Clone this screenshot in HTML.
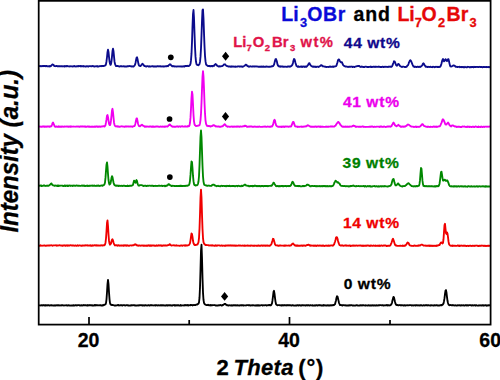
<!DOCTYPE html>
<html><head><meta charset="utf-8">
<style>
html,body{margin:0;padding:0;background:#fff;width:500px;height:380px;overflow:hidden}
svg{display:block}
text{font-family:"Liberation Sans",sans-serif;font-weight:bold;stroke-width:0.3px}
</style></head><body>
<svg width="500" height="380" viewBox="0 0 500 380">
<rect x="0" y="0" width="500" height="380" fill="#fff"/>
<g fill="none" stroke-width="1.85" stroke-linejoin="round" stroke-linecap="round">
<path d="M39.5 66.09 L40.0 65.99 L40.5 66.29 L41.0 65.94 L41.5 66.22 L42.0 66.12 L42.5 65.94 L43.0 66.21 L43.5 65.92 L44.0 66.16 L44.5 65.95 L45.0 65.96 L45.5 66.16 L46.0 66.40 L46.5 65.98 L47.0 66.04 L47.5 66.28 L48.0 66.47 L48.5 66.25 L49.0 66.14 L49.5 66.48 L50.0 65.91 L50.5 66.37 L51.0 65.92 L51.5 65.51 L52.0 64.90 L52.5 64.41 L53.0 64.65 L53.5 64.80 L54.0 65.67 L54.5 66.09 L55.0 66.07 L55.5 66.22 L56.0 65.94 L56.5 65.95 L57.0 66.04 L57.5 66.33 L58.0 66.18 L58.5 66.11 L59.0 66.28 L59.5 66.20 L60.0 66.11 L60.5 66.41 L61.0 66.35 L61.5 66.08 L62.0 66.28 L62.5 66.25 L63.0 66.46 L63.5 66.38 L64.0 66.11 L64.5 66.53 L65.0 66.01 L65.5 66.20 L66.0 66.40 L66.5 66.04 L67.0 66.24 L67.5 65.97 L68.0 66.35 L68.5 66.41 L69.0 66.30 L69.5 66.48 L70.0 66.14 L70.5 66.37 L71.0 66.31 L71.5 66.30 L72.0 66.23 L72.5 66.46 L73.0 66.53 L73.5 66.24 L74.0 66.36 L74.5 66.00 L75.0 66.38 L75.5 66.35 L76.0 66.56 L76.5 66.46 L77.0 66.14 L77.5 66.20 L78.0 66.37 L78.5 65.98 L79.0 66.25 L79.5 66.07 L80.0 66.04 L80.5 66.01 L81.0 66.43 L81.5 66.05 L82.0 66.12 L82.5 66.21 L83.0 66.50 L83.5 66.02 L84.0 66.25 L84.5 66.31 L85.0 66.51 L85.5 66.47 L86.0 66.50 L86.5 66.15 L87.0 66.23 L87.5 66.20 L88.0 66.51 L88.5 66.56 L89.0 66.07 L89.5 66.09 L90.0 66.12 L90.5 66.12 L91.0 66.27 L91.5 66.34 L92.0 66.14 L92.5 65.98 L93.0 66.23 L93.5 66.20 L94.0 66.32 L94.5 66.55 L95.0 66.39 L95.5 66.29 L96.0 66.35 L96.5 66.38 L97.0 66.01 L97.5 66.51 L98.0 66.44 L98.5 66.49 L99.0 66.44 L99.5 66.19 L100.0 66.19 L100.5 66.01 L101.0 66.32 L101.5 65.96 L102.0 65.95 L102.5 66.02 L103.0 65.97 L103.5 66.05 L104.0 65.84 L104.5 65.75 L105.0 65.69 L105.5 65.23 L106.0 64.18 L106.5 61.24 L107.0 57.25 L107.5 52.21 L108.0 49.66 L108.5 51.95 L109.0 56.83 L109.5 61.27 L110.0 63.70 L110.5 64.89 L111.0 64.12 L111.5 61.05 L112.0 56.36 L112.5 51.00 L113.0 48.64 L113.5 51.20 L114.0 56.33 L114.5 61.44 L115.0 63.95 L115.5 65.15 L116.0 66.17 L116.5 66.07 L117.0 65.91 L117.5 66.19 L118.0 65.91 L118.5 66.24 L119.0 66.52 L119.5 66.47 L120.0 66.38 L120.5 66.13 L121.0 66.20 L121.5 66.09 L122.0 66.46 L122.5 66.32 L123.0 66.47 L123.5 66.21 L124.0 66.15 L124.5 66.50 L125.0 66.61 L125.5 66.53 L126.0 66.51 L126.5 66.51 L127.0 66.47 L127.5 66.16 L128.0 66.34 L128.5 66.24 L129.0 66.04 L129.5 66.04 L130.0 66.19 L130.5 66.17 L131.0 66.42 L131.5 66.57 L132.0 66.26 L132.5 66.54 L133.0 66.55 L133.5 66.49 L134.0 66.03 L134.5 65.64 L135.0 64.81 L135.5 63.01 L136.0 60.30 L136.5 57.90 L137.0 57.26 L137.5 58.96 L138.0 61.61 L138.5 64.11 L139.0 65.55 L139.5 65.65 L140.0 66.07 L140.5 66.03 L141.0 65.53 L141.5 64.90 L142.0 64.16 L142.5 63.74 L143.0 64.37 L143.5 64.69 L144.0 65.60 L144.5 66.17 L145.0 66.09 L145.5 66.21 L146.0 66.59 L146.5 66.48 L147.0 66.16 L147.5 66.14 L148.0 66.16 L148.5 66.61 L149.0 66.56 L149.5 66.17 L150.0 66.58 L150.5 66.67 L151.0 66.48 L151.5 66.30 L152.0 66.42 L152.5 66.17 L153.0 66.10 L153.5 66.68 L154.0 66.49 L154.5 66.41 L155.0 66.66 L155.5 66.36 L156.0 66.62 L156.5 66.60 L157.0 66.23 L157.5 66.26 L158.0 66.28 L158.5 66.25 L159.0 66.46 L159.5 66.26 L160.0 66.36 L160.5 66.19 L161.0 66.65 L161.5 66.32 L162.0 66.38 L162.5 66.46 L163.0 66.65 L163.5 66.36 L164.0 66.65 L164.5 66.40 L165.0 66.42 L165.5 66.41 L166.0 66.10 L166.5 66.34 L167.0 66.16 L167.5 65.97 L168.0 66.25 L168.5 65.49 L169.0 65.09 L169.5 64.65 L170.0 64.29 L170.5 64.41 L171.0 65.11 L171.5 65.71 L172.0 66.24 L172.5 66.03 L173.0 66.38 L173.5 66.22 L174.0 66.25 L174.5 66.55 L175.0 66.39 L175.5 66.43 L176.0 66.54 L176.5 66.64 L177.0 66.35 L177.5 66.45 L178.0 66.39 L178.5 66.39 L179.0 66.49 L179.5 66.34 L180.0 66.39 L180.5 66.35 L181.0 66.62 L181.5 66.46 L182.0 66.56 L182.5 66.59 L183.0 66.17 L183.5 66.34 L184.0 66.55 L184.5 66.47 L185.0 66.03 L185.5 65.99 L186.0 66.15 L186.5 65.89 L187.0 65.95 L187.5 65.79 L188.0 66.07 L188.5 66.05 L189.0 65.98 L189.5 65.31 L190.0 65.14 L190.5 63.78 L191.0 60.18 L191.5 53.67 L192.0 41.98 L192.5 26.52 L193.0 14.03 L193.5 10.01 L194.0 18.16 L194.5 33.04 L195.0 47.03 L195.5 56.40 L196.0 61.80 L196.5 64.11 L197.0 64.82 L197.5 65.00 L198.0 65.14 L198.5 65.30 L199.0 64.60 L199.5 64.09 L200.0 61.89 L200.5 56.90 L201.0 48.34 L201.5 35.61 L202.0 20.99 L202.5 10.01 L203.0 9.46 L203.5 18.55 L204.0 32.98 L204.5 46.04 L205.0 55.81 L205.5 61.17 L206.0 64.21 L206.5 64.98 L207.0 65.33 L207.5 65.72 L208.0 66.15 L208.5 66.18 L209.0 65.92 L209.5 65.91 L210.0 66.42 L210.5 66.25 L211.0 66.36 L211.5 66.01 L212.0 66.00 L212.5 66.37 L213.0 66.13 L213.5 65.73 L214.0 65.87 L214.5 65.14 L215.0 64.67 L215.5 63.92 L216.0 64.54 L216.5 64.59 L217.0 65.67 L217.5 65.90 L218.0 66.11 L218.5 66.38 L219.0 66.66 L219.5 66.28 L220.0 66.21 L220.5 66.45 L221.0 66.27 L221.5 66.17 L222.0 66.11 L222.5 65.84 L223.0 65.54 L223.5 65.04 L224.0 64.46 L224.5 64.41 L225.0 64.28 L225.5 64.92 L226.0 65.34 L226.5 65.91 L227.0 66.00 L227.5 66.27 L228.0 66.19 L228.5 66.64 L229.0 66.54 L229.5 66.33 L230.0 66.51 L230.5 66.79 L231.0 66.30 L231.5 66.73 L232.0 66.50 L232.5 66.54 L233.0 66.75 L233.5 66.48 L234.0 66.55 L234.5 66.66 L235.0 66.84 L235.5 66.46 L236.0 66.76 L236.5 66.68 L237.0 66.64 L237.5 66.50 L238.0 66.47 L238.5 66.30 L239.0 66.34 L239.5 66.31 L240.0 66.71 L240.5 66.42 L241.0 66.36 L241.5 66.31 L242.0 66.76 L242.5 66.77 L243.0 66.61 L243.5 66.29 L244.0 66.08 L244.5 65.76 L245.0 65.39 L245.5 64.77 L246.0 64.75 L246.5 64.83 L247.0 65.70 L247.5 66.17 L248.0 66.27 L248.5 66.28 L249.0 66.80 L249.5 66.45 L250.0 66.49 L250.5 66.28 L251.0 66.52 L251.5 66.58 L252.0 66.60 L252.5 66.42 L253.0 66.60 L253.5 66.31 L254.0 66.46 L254.5 66.36 L255.0 66.55 L255.5 66.33 L256.0 66.32 L256.5 66.49 L257.0 66.45 L257.5 66.67 L258.0 66.63 L258.5 66.77 L259.0 66.71 L259.5 66.75 L260.0 66.85 L260.5 66.55 L261.0 66.52 L261.5 66.91 L262.0 66.41 L262.5 66.76 L263.0 66.71 L263.5 66.35 L264.0 66.82 L264.5 66.86 L265.0 66.70 L265.5 66.76 L266.0 66.81 L266.5 66.40 L267.0 66.63 L267.5 66.62 L268.0 66.81 L268.5 66.79 L269.0 66.80 L269.5 66.65 L270.0 66.83 L270.5 66.69 L271.0 66.69 L271.5 66.39 L272.0 66.24 L272.5 66.22 L273.0 66.13 L273.5 65.44 L274.0 64.78 L274.5 62.86 L275.0 60.79 L275.5 59.18 L276.0 59.04 L276.5 60.31 L277.0 62.11 L277.5 64.46 L278.0 65.66 L278.5 66.15 L279.0 66.44 L279.5 66.61 L280.0 66.30 L280.5 66.72 L281.0 66.45 L281.5 66.35 L282.0 66.48 L282.5 66.76 L283.0 66.45 L283.5 66.78 L284.0 66.92 L284.5 66.63 L285.0 66.57 L285.5 66.63 L286.0 66.75 L286.5 66.80 L287.0 66.71 L287.5 66.72 L288.0 66.38 L288.5 66.41 L289.0 66.47 L289.5 66.75 L290.0 66.46 L290.5 66.58 L291.0 66.15 L291.5 65.92 L292.0 65.43 L292.5 64.47 L293.0 62.65 L293.5 60.59 L294.0 59.00 L294.5 59.30 L295.0 60.85 L295.5 62.92 L296.0 64.43 L296.5 65.97 L297.0 66.09 L297.5 66.77 L298.0 66.83 L298.5 66.31 L299.0 66.60 L299.5 66.83 L300.0 66.93 L300.5 66.63 L301.0 66.52 L301.5 66.49 L302.0 66.94 L302.5 66.50 L303.0 66.72 L303.5 66.46 L304.0 66.69 L304.5 66.94 L305.0 66.44 L305.5 66.84 L306.0 66.61 L306.5 66.73 L307.0 66.35 L307.5 65.55 L308.0 65.15 L308.5 64.02 L309.0 63.16 L309.5 63.22 L310.0 64.20 L310.5 65.07 L311.0 65.72 L311.5 66.09 L312.0 66.45 L312.5 66.52 L313.0 66.87 L313.5 66.39 L314.0 66.85 L314.5 66.90 L315.0 66.48 L315.5 66.96 L316.0 66.84 L316.5 66.95 L317.0 66.59 L317.5 66.63 L318.0 66.64 L318.5 66.98 L319.0 66.67 L319.5 66.38 L320.0 66.17 L320.5 65.72 L321.0 65.25 L321.5 65.14 L322.0 65.72 L322.5 65.73 L323.0 66.47 L323.5 66.32 L324.0 66.48 L324.5 66.70 L325.0 66.53 L325.5 66.65 L326.0 67.00 L326.5 66.96 L327.0 66.92 L327.5 66.81 L328.0 66.98 L328.5 67.00 L329.0 66.77 L329.5 66.87 L330.0 66.46 L330.5 66.87 L331.0 66.70 L331.5 66.87 L332.0 66.80 L332.5 66.58 L333.0 66.43 L333.5 66.94 L334.0 66.45 L334.5 66.62 L335.0 66.48 L335.5 66.29 L336.0 66.17 L336.5 65.53 L337.0 63.79 L337.5 62.26 L338.0 60.28 L338.5 59.40 L339.0 59.44 L339.5 60.30 L340.0 61.32 L340.5 61.88 L341.0 62.36 L341.5 62.15 L342.0 62.42 L342.5 63.72 L343.0 64.81 L343.5 65.38 L344.0 65.82 L344.5 66.22 L345.0 66.34 L345.5 66.57 L346.0 66.46 L346.5 66.57 L347.0 66.59 L347.5 66.79 L348.0 66.99 L348.5 66.91 L349.0 66.72 L349.5 66.72 L350.0 66.79 L350.5 66.71 L351.0 66.69 L351.5 66.52 L352.0 66.66 L352.5 67.07 L353.0 66.57 L353.5 66.79 L354.0 66.87 L354.5 67.00 L355.0 66.60 L355.5 66.58 L356.0 66.46 L356.5 66.35 L357.0 66.11 L357.5 66.17 L358.0 65.99 L358.5 66.12 L359.0 65.86 L359.5 66.14 L360.0 66.75 L360.5 66.97 L361.0 66.77 L361.5 66.86 L362.0 66.52 L362.5 66.76 L363.0 67.08 L363.5 67.02 L364.0 67.04 L364.5 67.12 L365.0 66.68 L365.5 66.60 L366.0 66.63 L366.5 66.85 L367.0 66.95 L367.5 67.11 L368.0 66.98 L368.5 66.93 L369.0 67.00 L369.5 66.82 L370.0 66.88 L370.5 66.57 L371.0 67.02 L371.5 66.69 L372.0 67.10 L372.5 66.94 L373.0 66.74 L373.5 66.63 L374.0 66.71 L374.5 66.94 L375.0 66.98 L375.5 66.63 L376.0 66.60 L376.5 66.87 L377.0 66.91 L377.5 66.79 L378.0 66.70 L378.5 66.92 L379.0 66.57 L379.5 66.74 L380.0 66.84 L380.5 67.14 L381.0 66.95 L381.5 67.09 L382.0 66.85 L382.5 66.71 L383.0 66.71 L383.5 67.14 L384.0 66.99 L384.5 66.75 L385.0 66.57 L385.5 66.86 L386.0 66.96 L386.5 66.81 L387.0 66.71 L387.5 66.95 L388.0 67.10 L388.5 66.68 L389.0 66.55 L389.5 66.73 L390.0 66.76 L390.5 66.89 L391.0 66.54 L391.5 66.74 L392.0 66.31 L392.5 65.37 L393.0 63.91 L393.5 62.84 L394.0 61.27 L394.5 61.44 L395.0 62.07 L395.5 63.53 L396.0 65.08 L396.5 65.40 L397.0 65.74 L397.5 64.95 L398.0 64.17 L398.5 63.93 L399.0 64.35 L399.5 65.18 L400.0 66.06 L400.5 66.10 L401.0 66.55 L401.5 66.57 L402.0 67.08 L402.5 66.60 L403.0 66.55 L403.5 66.56 L404.0 66.75 L404.5 67.05 L405.0 67.03 L405.5 66.91 L406.0 67.00 L406.5 66.82 L407.0 66.18 L407.5 65.59 L408.0 65.24 L408.5 64.00 L409.0 62.25 L409.5 61.36 L410.0 60.36 L410.5 60.27 L411.0 60.95 L411.5 62.06 L412.0 63.30 L412.5 64.65 L413.0 65.57 L413.5 66.50 L414.0 66.32 L414.5 66.98 L415.0 66.61 L415.5 66.74 L416.0 67.04 L416.5 67.05 L417.0 66.82 L417.5 66.60 L418.0 66.86 L418.5 66.80 L419.0 67.12 L419.5 66.68 L420.0 66.75 L420.5 67.00 L421.0 66.29 L421.5 66.10 L422.0 65.65 L422.5 64.73 L423.0 63.53 L423.5 63.31 L424.0 63.81 L424.5 65.19 L425.0 65.64 L425.5 66.52 L426.0 66.93 L426.5 66.73 L427.0 66.74 L427.5 67.18 L428.0 66.98 L428.5 66.78 L429.0 67.05 L429.5 66.82 L430.0 66.80 L430.5 66.64 L431.0 67.09 L431.5 67.19 L432.0 67.02 L432.5 67.20 L433.0 66.65 L433.5 66.78 L434.0 66.92 L434.5 67.21 L435.0 67.20 L435.5 66.86 L436.0 66.77 L436.5 66.87 L437.0 66.90 L437.5 67.15 L438.0 66.69 L438.5 67.04 L439.0 66.98 L439.5 66.97 L440.0 66.78 L440.5 66.27 L441.0 65.17 L441.5 63.51 L442.0 61.40 L442.5 59.87 L443.0 59.04 L443.5 60.03 L444.0 61.34 L444.5 60.99 L445.0 59.92 L445.5 59.12 L446.0 59.74 L446.5 60.49 L447.0 61.05 L447.5 60.06 L448.0 59.14 L448.5 59.25 L449.0 61.25 L449.5 63.62 L450.0 65.52 L450.5 66.46 L451.0 66.57 L451.5 66.42 L452.0 66.30 L452.5 66.04 L453.0 65.64 L453.5 65.39 L454.0 65.50 L454.5 65.75 L455.0 65.90 L455.5 66.73 L456.0 66.64 L456.5 66.93 L457.0 66.87 L457.5 67.11 L458.0 66.80 L458.5 66.84 L459.0 66.84 L459.5 66.79 L460.0 67.24 L460.5 67.06 L461.0 66.91 L461.5 66.95 L462.0 67.31 L462.5 67.03 L463.0 66.86 L463.5 67.21 L464.0 67.12 L464.5 67.33 L465.0 66.79 L465.5 67.02 L466.0 67.23 L466.5 67.24 L467.0 67.29 L467.5 66.77 L468.0 66.92 L468.5 66.82 L469.0 66.86 L469.5 67.33 L470.0 67.10 L470.5 67.31 L471.0 66.98 L471.5 67.27 L472.0 67.02 L472.5 66.91 L473.0 67.22 L473.5 67.33 L474.0 66.82 L474.5 67.12 L475.0 67.13 L475.5 66.89 L476.0 66.99 L476.5 66.85 L477.0 66.89 L477.5 66.92 L478.0 67.13 L478.5 67.16 L479.0 66.89 L479.5 66.78 L480.0 66.97 L480.5 67.18 L481.0 66.89 L481.5 66.97 L482.0 66.90 L482.5 67.26 L483.0 67.11 L483.5 66.82 L484.0 66.84 L484.5 67.02 L485.0 67.12 L485.5 67.17 L486.0 66.84 L486.5 66.89 L487.0 67.21 L487.5 67.04 L488.0 66.96 L488.5 66.98 L489.0 67.37 L489.5 66.98" stroke="#0c0c8c"/>
<path d="M39.5 126.64 L40.0 126.51 L40.5 126.55 L41.0 126.81 L41.5 126.89 L42.0 126.51 L42.5 126.41 L43.0 126.73 L43.5 126.42 L44.0 126.30 L44.5 126.83 L45.0 126.55 L45.5 126.78 L46.0 126.53 L46.5 126.82 L47.0 126.56 L47.5 126.38 L48.0 126.29 L48.5 126.61 L49.0 126.66 L49.5 126.81 L50.0 126.31 L50.5 126.60 L51.0 126.35 L51.5 126.04 L52.0 124.76 L52.5 123.19 L53.0 122.41 L53.5 123.58 L54.0 124.73 L54.5 126.03 L55.0 126.61 L55.5 126.81 L56.0 126.37 L56.5 126.34 L57.0 126.84 L57.5 126.87 L58.0 126.58 L58.5 126.32 L59.0 126.85 L59.5 126.53 L60.0 126.84 L60.5 126.67 L61.0 126.79 L61.5 126.40 L62.0 126.77 L62.5 126.43 L63.0 126.54 L63.5 126.81 L64.0 126.80 L64.5 126.41 L65.0 126.43 L65.5 126.54 L66.0 126.62 L66.5 126.53 L67.0 126.38 L67.5 126.45 L68.0 126.74 L68.5 126.84 L69.0 126.33 L69.5 126.64 L70.0 126.76 L70.5 126.33 L71.0 126.81 L71.5 126.38 L72.0 126.67 L72.5 126.64 L73.0 126.68 L73.5 126.49 L74.0 126.56 L74.5 126.66 L75.0 126.56 L75.5 126.70 L76.0 126.58 L76.5 126.57 L77.0 126.32 L77.5 126.68 L78.0 126.60 L78.5 126.45 L79.0 126.77 L79.5 126.78 L80.0 126.58 L80.5 126.42 L81.0 126.59 L81.5 126.37 L82.0 126.39 L82.5 126.57 L83.0 126.36 L83.5 126.57 L84.0 126.61 L84.5 126.33 L85.0 126.69 L85.5 126.36 L86.0 126.75 L86.5 126.77 L87.0 126.61 L87.5 126.34 L88.0 126.61 L88.5 126.53 L89.0 126.88 L89.5 126.39 L90.0 126.82 L90.5 126.90 L91.0 126.74 L91.5 126.79 L92.0 126.42 L92.5 126.89 L93.0 126.60 L93.5 126.87 L94.0 126.85 L94.5 126.40 L95.0 126.77 L95.5 126.85 L96.0 126.33 L96.5 126.50 L97.0 126.74 L97.5 126.38 L98.0 126.82 L98.5 126.44 L99.0 126.76 L99.5 126.36 L100.0 126.56 L100.5 126.81 L101.0 126.37 L101.5 126.39 L102.0 126.53 L102.5 126.40 L103.0 126.21 L103.5 126.26 L104.0 126.19 L104.5 126.53 L105.0 125.99 L105.5 125.08 L106.0 122.43 L106.5 119.41 L107.0 115.72 L107.5 114.95 L108.0 117.14 L108.5 120.49 L109.0 123.70 L109.5 125.00 L110.0 125.15 L110.5 123.99 L111.0 120.22 L111.5 115.62 L112.0 110.40 L112.5 108.76 L113.0 112.32 L113.5 117.46 L114.0 122.46 L114.5 124.81 L115.0 125.77 L115.5 126.39 L116.0 126.32 L116.5 126.22 L117.0 126.60 L117.5 126.21 L118.0 126.70 L118.5 126.38 L119.0 126.62 L119.5 126.84 L120.0 126.61 L120.5 126.66 L121.0 126.46 L121.5 126.28 L122.0 126.30 L122.5 126.37 L123.0 126.66 L123.5 126.55 L124.0 126.60 L124.5 126.83 L125.0 126.37 L125.5 126.43 L126.0 126.69 L126.5 126.31 L127.0 126.30 L127.5 126.51 L128.0 126.36 L128.5 126.51 L129.0 126.43 L129.5 126.64 L130.0 126.64 L130.5 126.40 L131.0 126.65 L131.5 126.55 L132.0 126.34 L132.5 126.80 L133.0 126.36 L133.5 126.26 L134.0 126.09 L134.5 126.00 L135.0 125.12 L135.5 123.13 L136.0 120.37 L136.5 118.43 L137.0 118.51 L137.5 121.01 L138.0 123.44 L138.5 125.04 L139.0 126.05 L139.5 126.14 L140.0 126.32 L140.5 125.87 L141.0 125.16 L141.5 125.23 L142.0 124.69 L142.5 125.28 L143.0 125.65 L143.5 125.95 L144.0 126.10 L144.5 126.67 L145.0 126.27 L145.5 126.61 L146.0 126.86 L146.5 126.39 L147.0 126.43 L147.5 126.67 L148.0 126.62 L148.5 126.70 L149.0 126.81 L149.5 126.42 L150.0 126.51 L150.5 126.50 L151.0 126.35 L151.5 126.86 L152.0 126.79 L152.5 126.75 L153.0 126.33 L153.5 126.83 L154.0 126.77 L154.5 126.61 L155.0 126.77 L155.5 126.60 L156.0 126.46 L156.5 126.39 L157.0 126.47 L157.5 126.35 L158.0 126.53 L158.5 126.78 L159.0 126.74 L159.5 126.83 L160.0 126.75 L160.5 126.49 L161.0 126.66 L161.5 126.59 L162.0 126.80 L162.5 126.64 L163.0 126.48 L163.5 126.70 L164.0 126.90 L164.5 126.44 L165.0 126.84 L165.5 126.31 L166.0 126.45 L166.5 126.40 L167.0 126.64 L167.5 126.58 L168.0 126.13 L168.5 125.36 L169.0 125.12 L169.5 124.41 L170.0 124.40 L170.5 125.24 L171.0 125.65 L171.5 126.17 L172.0 126.45 L172.5 126.79 L173.0 126.54 L173.5 126.79 L174.0 126.71 L174.5 126.81 L175.0 126.56 L175.5 126.73 L176.0 126.64 L176.5 126.48 L177.0 126.42 L177.5 126.67 L178.0 126.34 L178.5 126.84 L179.0 126.38 L179.5 126.30 L180.0 126.35 L180.5 126.83 L181.0 126.48 L181.5 126.35 L182.0 126.28 L182.5 126.28 L183.0 126.66 L183.5 126.61 L184.0 126.64 L184.5 126.65 L185.0 126.23 L185.5 126.52 L186.0 126.36 L186.5 126.60 L187.0 126.56 L187.5 126.54 L188.0 125.97 L188.5 126.34 L189.0 126.11 L189.5 125.39 L190.0 122.74 L190.5 117.67 L191.0 108.59 L191.5 97.75 L192.0 91.69 L192.5 94.66 L193.0 104.49 L193.5 114.81 L194.0 121.36 L194.5 124.27 L195.0 125.27 L195.5 125.61 L196.0 126.12 L196.5 125.83 L197.0 125.90 L197.5 125.93 L198.0 125.62 L198.5 125.65 L199.0 125.43 L199.5 125.12 L200.0 123.46 L200.5 120.06 L201.0 113.75 L201.5 102.64 L202.0 89.13 L202.5 76.59 L203.0 71.06 L203.5 76.48 L204.0 88.90 L204.5 102.83 L205.0 113.42 L205.5 120.34 L206.0 123.63 L206.5 124.90 L207.0 125.88 L207.5 125.67 L208.0 126.25 L208.5 125.96 L209.0 125.93 L209.5 126.11 L210.0 126.48 L210.5 126.63 L211.0 126.03 L211.5 126.24 L212.0 126.05 L212.5 125.92 L213.0 125.21 L213.5 125.16 L214.0 125.12 L214.5 125.70 L215.0 125.74 L215.5 126.46 L216.0 126.27 L216.5 126.33 L217.0 126.66 L217.5 126.56 L218.0 126.34 L218.5 126.66 L219.0 126.33 L219.5 126.76 L220.0 126.70 L220.5 126.76 L221.0 126.65 L221.5 126.47 L222.0 126.42 L222.5 126.25 L223.0 126.21 L223.5 125.21 L224.0 125.11 L224.5 124.21 L225.0 124.37 L225.5 124.85 L226.0 125.82 L226.5 126.07 L227.0 126.30 L227.5 126.76 L228.0 126.43 L228.5 126.59 L229.0 126.64 L229.5 126.78 L230.0 126.79 L230.5 126.73 L231.0 126.55 L231.5 126.54 L232.0 126.44 L232.5 126.86 L233.0 126.75 L233.5 126.80 L234.0 126.46 L234.5 126.62 L235.0 126.82 L235.5 126.71 L236.0 126.44 L236.5 126.64 L237.0 126.89 L237.5 126.50 L238.0 126.48 L238.5 126.54 L239.0 126.78 L239.5 126.87 L240.0 126.45 L240.5 126.45 L241.0 126.51 L241.5 126.55 L242.0 126.65 L242.5 126.39 L243.0 126.39 L243.5 126.14 L244.0 126.38 L244.5 126.02 L245.0 125.55 L245.5 126.16 L246.0 125.86 L246.5 126.26 L247.0 126.79 L247.5 126.77 L248.0 126.78 L248.5 126.62 L249.0 126.48 L249.5 126.75 L250.0 126.44 L250.5 126.50 L251.0 126.61 L251.5 126.40 L252.0 126.62 L252.5 126.85 L253.0 126.79 L253.5 126.68 L254.0 126.76 L254.5 126.66 L255.0 126.47 L255.5 126.74 L256.0 126.62 L256.5 126.83 L257.0 126.93 L257.5 126.64 L258.0 126.73 L258.5 126.83 L259.0 126.63 L259.5 126.52 L260.0 126.82 L260.5 126.91 L261.0 126.85 L261.5 126.80 L262.0 126.89 L262.5 126.79 L263.0 126.77 L263.5 126.65 L264.0 126.57 L264.5 126.76 L265.0 126.44 L265.5 126.63 L266.0 126.84 L266.5 126.80 L267.0 126.75 L267.5 126.52 L268.0 126.62 L268.5 126.63 L269.0 126.73 L269.5 126.59 L270.0 126.74 L270.5 126.88 L271.0 126.40 L271.5 126.63 L272.0 126.52 L272.5 125.78 L273.0 124.69 L273.5 123.08 L274.0 120.47 L274.5 119.82 L275.0 120.54 L275.5 122.97 L276.0 124.96 L276.5 125.86 L277.0 126.12 L277.5 126.58 L278.0 126.62 L278.5 126.75 L279.0 126.64 L279.5 126.73 L280.0 126.85 L280.5 126.67 L281.0 126.61 L281.5 126.94 L282.0 126.50 L282.5 126.79 L283.0 126.61 L283.5 126.84 L284.0 126.45 L284.5 126.97 L285.0 126.59 L285.5 126.41 L286.0 126.54 L286.5 126.62 L287.0 126.38 L287.5 126.62 L288.0 126.62 L288.5 126.78 L289.0 126.56 L289.5 126.50 L290.0 126.44 L290.5 126.67 L291.0 126.55 L291.5 125.69 L292.0 124.35 L292.5 123.20 L293.0 121.84 L293.5 121.88 L294.0 123.09 L294.5 124.96 L295.0 126.02 L295.5 126.44 L296.0 126.54 L296.5 126.66 L297.0 126.48 L297.5 126.94 L298.0 126.58 L298.5 126.76 L299.0 126.87 L299.5 126.87 L300.0 126.67 L300.5 126.56 L301.0 126.72 L301.5 126.46 L302.0 126.89 L302.5 126.60 L303.0 126.90 L303.5 126.55 L304.0 126.61 L304.5 126.53 L305.0 126.61 L305.5 126.40 L306.0 126.15 L306.5 126.33 L307.0 125.72 L307.5 125.38 L308.0 125.27 L308.5 125.52 L309.0 125.81 L309.5 126.28 L310.0 126.54 L310.5 126.51 L311.0 126.91 L311.5 126.89 L312.0 126.43 L312.5 126.89 L313.0 126.94 L313.5 126.87 L314.0 126.49 L314.5 126.90 L315.0 126.79 L315.5 126.42 L316.0 126.41 L316.5 126.98 L317.0 126.80 L317.5 126.56 L318.0 126.47 L318.5 126.50 L319.0 126.55 L319.5 126.88 L320.0 126.62 L320.5 126.50 L321.0 126.95 L321.5 126.88 L322.0 126.51 L322.5 126.94 L323.0 126.77 L323.5 126.88 L324.0 126.81 L324.5 126.94 L325.0 126.88 L325.5 126.91 L326.0 126.52 L326.5 126.82 L327.0 126.72 L327.5 126.85 L328.0 126.66 L328.5 126.93 L329.0 126.73 L329.5 126.55 L330.0 126.53 L330.5 126.47 L331.0 126.67 L331.5 126.41 L332.0 126.64 L332.5 126.43 L333.0 126.61 L333.5 126.56 L334.0 126.49 L334.5 126.49 L335.0 125.67 L335.5 125.68 L336.0 124.80 L336.5 124.04 L337.0 123.26 L337.5 122.64 L338.0 121.96 L338.5 122.03 L339.0 122.84 L339.5 123.07 L340.0 124.26 L340.5 125.04 L341.0 125.31 L341.5 126.11 L342.0 126.43 L342.5 126.75 L343.0 126.48 L343.5 126.92 L344.0 126.66 L344.5 126.66 L345.0 126.91 L345.5 126.40 L346.0 126.82 L346.5 126.77 L347.0 126.60 L347.5 126.91 L348.0 126.62 L348.5 126.68 L349.0 126.72 L349.5 126.86 L350.0 126.52 L350.5 126.64 L351.0 126.59 L351.5 126.56 L352.0 126.53 L352.5 125.92 L353.0 125.95 L353.5 125.53 L354.0 125.67 L354.5 125.79 L355.0 126.23 L355.5 126.75 L356.0 126.70 L356.5 126.85 L357.0 126.60 L357.5 126.60 L358.0 126.60 L358.5 126.77 L359.0 126.80 L359.5 126.90 L360.0 126.45 L360.5 126.86 L361.0 126.96 L361.5 126.76 L362.0 126.46 L362.5 126.61 L363.0 126.44 L363.5 126.55 L364.0 126.99 L364.5 126.80 L365.0 126.83 L365.5 126.91 L366.0 126.98 L366.5 126.80 L367.0 126.81 L367.5 126.81 L368.0 126.85 L368.5 126.80 L369.0 126.85 L369.5 126.57 L370.0 126.84 L370.5 126.71 L371.0 126.90 L371.5 126.50 L372.0 126.55 L372.5 126.46 L373.0 126.90 L373.5 126.99 L374.0 126.83 L374.5 126.66 L375.0 126.93 L375.5 126.91 L376.0 126.78 L376.5 126.59 L377.0 126.62 L377.5 126.69 L378.0 126.63 L378.5 126.70 L379.0 126.82 L379.5 127.00 L380.0 126.47 L380.5 126.78 L381.0 126.46 L381.5 126.51 L382.0 126.92 L382.5 126.78 L383.0 126.99 L383.5 126.70 L384.0 126.44 L384.5 126.67 L385.0 126.79 L385.5 126.99 L386.0 127.02 L386.5 126.71 L387.0 126.67 L387.5 126.48 L388.0 126.80 L388.5 126.54 L389.0 126.49 L389.5 126.40 L390.0 126.36 L390.5 126.69 L391.0 126.17 L391.5 126.26 L392.0 124.99 L392.5 124.46 L393.0 123.06 L393.5 122.58 L394.0 123.41 L394.5 124.06 L395.0 125.34 L395.5 125.70 L396.0 125.91 L396.5 126.29 L397.0 125.93 L397.5 125.58 L398.0 125.15 L398.5 124.73 L399.0 125.37 L399.5 125.89 L400.0 126.17 L400.5 126.72 L401.0 126.46 L401.5 126.94 L402.0 126.82 L402.5 126.40 L403.0 126.40 L403.5 126.78 L404.0 126.85 L404.5 126.36 L405.0 126.40 L405.5 126.47 L406.0 125.85 L406.5 125.88 L407.0 125.22 L407.5 124.57 L408.0 124.53 L408.5 124.68 L409.0 124.87 L409.5 125.42 L410.0 125.54 L410.5 126.30 L411.0 126.30 L411.5 126.63 L412.0 126.71 L412.5 126.63 L413.0 126.64 L413.5 126.89 L414.0 126.99 L414.5 126.89 L415.0 126.77 L415.5 126.60 L416.0 126.46 L416.5 127.01 L417.0 126.85 L417.5 126.92 L418.0 126.61 L418.5 126.77 L419.0 126.97 L419.5 126.82 L420.0 126.52 L420.5 126.00 L421.0 125.50 L421.5 125.04 L422.0 124.10 L422.5 124.11 L423.0 124.45 L423.5 125.35 L424.0 125.99 L424.5 126.15 L425.0 126.24 L425.5 126.51 L426.0 126.65 L426.5 126.77 L427.0 126.91 L427.5 126.96 L428.0 126.46 L428.5 126.93 L429.0 126.92 L429.5 126.96 L430.0 126.78 L430.5 126.60 L431.0 126.95 L431.5 126.92 L432.0 126.84 L432.5 126.98 L433.0 126.64 L433.5 126.48 L434.0 126.76 L434.5 126.90 L435.0 126.53 L435.5 126.86 L436.0 126.96 L436.5 126.53 L437.0 126.74 L437.5 126.77 L438.0 126.62 L438.5 126.41 L439.0 126.33 L439.5 126.42 L440.0 126.04 L440.5 125.14 L441.0 123.85 L441.5 122.90 L442.0 121.36 L442.5 119.75 L443.0 119.32 L443.5 119.78 L444.0 120.83 L444.5 122.05 L445.0 123.42 L445.5 124.49 L446.0 124.66 L446.5 124.42 L447.0 123.65 L447.5 123.12 L448.0 122.56 L448.5 123.13 L449.0 124.03 L449.5 125.13 L450.0 125.63 L450.5 125.90 L451.0 126.48 L451.5 125.88 L452.0 125.41 L452.5 125.52 L453.0 125.65 L453.5 125.55 L454.0 126.16 L454.5 126.30 L455.0 126.59 L455.5 126.39 L456.0 126.43 L456.5 127.02 L457.0 126.96 L457.5 126.74 L458.0 126.79 L458.5 126.61 L459.0 126.92 L459.5 126.71 L460.0 127.03 L460.5 126.92 L461.0 126.96 L461.5 127.05 L462.0 126.62 L462.5 126.49 L463.0 126.59 L463.5 126.58 L464.0 126.52 L464.5 126.51 L465.0 126.81 L465.5 127.00 L466.0 126.75 L466.5 127.05 L467.0 127.02 L467.5 126.52 L468.0 126.84 L468.5 126.72 L469.0 126.55 L469.5 127.06 L470.0 126.64 L470.5 126.82 L471.0 126.87 L471.5 127.06 L472.0 126.89 L472.5 126.72 L473.0 126.75 L473.5 126.58 L474.0 127.07 L474.5 127.08 L475.0 126.62 L475.5 126.51 L476.0 126.64 L476.5 126.70 L477.0 127.03 L477.5 127.03 L478.0 126.99 L478.5 126.52 L479.0 126.96 L479.5 126.92 L480.0 126.88 L480.5 127.08 L481.0 126.52 L481.5 126.58 L482.0 126.95 L482.5 127.06 L483.0 126.90 L483.5 126.67 L484.0 126.85 L484.5 126.95 L485.0 126.56 L485.5 126.69 L486.0 126.65 L486.5 126.57 L487.0 126.78 L487.5 126.60 L488.0 126.64 L488.5 126.58 L489.0 126.90 L489.5 126.50" stroke="#f000f0"/>
<path d="M39.5 185.83 L40.0 185.51 L40.5 185.42 L41.0 185.95 L41.5 185.53 L42.0 185.96 L42.5 185.92 L43.0 185.93 L43.5 185.48 L44.0 185.67 L44.5 185.46 L45.0 185.96 L45.5 185.90 L46.0 185.78 L46.5 185.67 L47.0 185.60 L47.5 185.88 L48.0 185.67 L48.5 185.75 L49.0 185.40 L49.5 185.27 L50.0 184.69 L50.5 184.29 L51.0 183.51 L51.5 183.35 L52.0 184.55 L52.5 184.94 L53.0 185.44 L53.5 185.44 L54.0 185.55 L54.5 185.90 L55.0 185.61 L55.5 185.51 L56.0 185.71 L56.5 185.61 L57.0 185.96 L57.5 185.49 L58.0 186.01 L58.5 185.46 L59.0 185.96 L59.5 185.83 L60.0 185.56 L60.5 185.72 L61.0 185.60 L61.5 185.59 L62.0 185.55 L62.5 185.65 L63.0 186.03 L63.5 186.04 L64.0 185.99 L64.5 185.50 L65.0 185.61 L65.5 185.98 L66.0 185.48 L66.5 185.88 L67.0 185.62 L67.5 186.03 L68.0 185.45 L68.5 185.93 L69.0 185.65 L69.5 185.53 L70.0 185.45 L70.5 185.95 L71.0 185.77 L71.5 185.56 L72.0 185.71 L72.5 186.00 L73.0 185.58 L73.5 185.80 L74.0 185.54 L74.5 185.56 L75.0 185.92 L75.5 185.88 L76.0 185.57 L76.5 185.51 L77.0 185.51 L77.5 185.82 L78.0 185.76 L78.5 185.62 L79.0 185.58 L79.5 185.83 L80.0 185.89 L80.5 185.95 L81.0 185.81 L81.5 185.59 L82.0 185.50 L82.5 185.90 L83.0 185.71 L83.5 185.90 L84.0 185.50 L84.5 185.95 L85.0 185.67 L85.5 185.97 L86.0 185.99 L86.5 185.76 L87.0 185.48 L87.5 186.01 L88.0 185.75 L88.5 185.99 L89.0 185.63 L89.5 185.58 L90.0 185.97 L90.5 185.69 L91.0 185.57 L91.5 185.69 L92.0 185.82 L92.5 185.47 L93.0 185.78 L93.5 185.73 L94.0 185.77 L94.5 185.53 L95.0 185.89 L95.5 185.95 L96.0 185.97 L96.5 185.65 L97.0 185.88 L97.5 185.67 L98.0 185.89 L98.5 185.47 L99.0 185.95 L99.5 185.99 L100.0 185.70 L100.5 185.70 L101.0 185.69 L101.5 185.67 L102.0 185.33 L102.5 185.86 L103.0 185.36 L103.5 185.23 L104.0 184.94 L104.5 184.27 L105.0 182.53 L105.5 177.64 L106.0 170.91 L106.5 164.69 L107.0 162.39 L107.5 166.59 L108.0 174.05 L108.5 179.97 L109.0 183.26 L109.5 184.59 L110.0 184.15 L110.5 183.42 L111.0 181.02 L111.5 177.82 L112.0 176.17 L112.5 177.21 L113.0 179.87 L113.5 182.45 L114.0 184.14 L114.5 185.15 L115.0 185.30 L115.5 185.68 L116.0 185.89 L116.5 185.49 L117.0 185.77 L117.5 185.89 L118.0 185.55 L118.5 185.96 L119.0 186.03 L119.5 185.71 L120.0 185.74 L120.5 185.99 L121.0 185.81 L121.5 185.73 L122.0 186.06 L122.5 185.97 L123.0 185.71 L123.5 185.65 L124.0 185.71 L124.5 185.77 L125.0 186.10 L125.5 186.00 L126.0 186.06 L126.5 186.00 L127.0 186.02 L127.5 185.55 L128.0 185.82 L128.5 186.09 L129.0 186.07 L129.5 185.65 L130.0 185.75 L130.5 185.87 L131.0 185.69 L131.5 185.77 L132.0 185.44 L132.5 185.43 L133.0 184.68 L133.5 182.66 L134.0 180.73 L134.5 180.88 L135.0 182.13 L135.5 182.83 L136.0 181.37 L136.5 180.08 L137.0 181.00 L137.5 183.32 L138.0 184.53 L138.5 185.58 L139.0 185.49 L139.5 185.65 L140.0 185.19 L140.5 185.09 L141.0 185.20 L141.5 185.15 L142.0 185.21 L142.5 185.62 L143.0 185.72 L143.5 186.09 L144.0 185.71 L144.5 185.73 L145.0 185.94 L145.5 185.63 L146.0 185.92 L146.5 186.14 L147.0 185.87 L147.5 185.73 L148.0 185.85 L148.5 185.89 L149.0 185.66 L149.5 185.65 L150.0 185.66 L150.5 185.75 L151.0 185.82 L151.5 185.75 L152.0 185.73 L152.5 185.64 L153.0 185.91 L153.5 186.09 L154.0 185.95 L154.5 185.93 L155.0 185.98 L155.5 185.71 L156.0 186.01 L156.5 185.87 L157.0 185.92 L157.5 185.96 L158.0 185.87 L158.5 185.78 L159.0 185.74 L159.5 185.73 L160.0 185.90 L160.5 185.82 L161.0 185.94 L161.5 185.60 L162.0 185.80 L162.5 186.11 L163.0 185.74 L163.5 185.93 L164.0 185.88 L164.5 185.76 L165.0 186.18 L165.5 185.75 L166.0 186.02 L166.5 185.58 L167.0 185.36 L167.5 185.50 L168.0 184.75 L168.5 184.10 L169.0 184.25 L169.5 184.65 L170.0 185.32 L170.5 185.33 L171.0 185.60 L171.5 186.12 L172.0 186.02 L172.5 185.68 L173.0 185.79 L173.5 185.80 L174.0 186.00 L174.5 185.96 L175.0 186.11 L175.5 186.09 L176.0 185.91 L176.5 186.04 L177.0 186.04 L177.5 186.05 L178.0 185.88 L178.5 186.06 L179.0 186.01 L179.5 186.13 L180.0 185.66 L180.5 186.10 L181.0 185.58 L181.5 186.03 L182.0 185.92 L182.5 185.86 L183.0 186.13 L183.5 185.89 L184.0 185.78 L184.5 185.99 L185.0 186.03 L185.5 185.85 L186.0 185.69 L186.5 185.71 L187.0 185.67 L187.5 185.78 L188.0 185.45 L188.5 185.35 L189.0 185.03 L189.5 183.69 L190.0 180.53 L190.5 174.93 L191.0 167.31 L191.5 161.45 L192.0 162.12 L192.5 168.39 L193.0 175.96 L193.5 181.14 L194.0 184.01 L194.5 184.98 L195.0 184.97 L195.5 185.53 L196.0 185.16 L196.5 185.41 L197.0 185.27 L197.5 185.03 L198.0 183.71 L198.5 181.50 L199.0 176.27 L199.5 165.40 L200.0 150.81 L200.5 136.83 L201.0 130.54 L201.5 137.05 L202.0 151.26 L202.5 165.76 L203.0 176.37 L203.5 181.62 L204.0 183.99 L204.5 184.98 L205.0 185.14 L205.5 185.29 L206.0 185.55 L206.5 185.48 L207.0 185.90 L207.5 185.79 L208.0 185.73 L208.5 185.51 L209.0 185.70 L209.5 185.73 L210.0 185.83 L210.5 185.82 L211.0 185.92 L211.5 185.79 L212.0 185.20 L212.5 184.80 L213.0 184.63 L213.5 184.83 L214.0 184.70 L214.5 185.19 L215.0 185.70 L215.5 185.54 L216.0 185.75 L216.5 186.20 L217.0 186.13 L217.5 185.95 L218.0 185.72 L218.5 186.19 L219.0 186.08 L219.5 186.16 L220.0 186.26 L220.5 186.21 L221.0 185.93 L221.5 185.77 L222.0 185.86 L222.5 185.99 L223.0 185.99 L223.5 185.80 L224.0 185.80 L224.5 186.07 L225.0 186.06 L225.5 185.91 L226.0 186.30 L226.5 186.09 L227.0 185.73 L227.5 185.96 L228.0 186.18 L228.5 185.90 L229.0 186.13 L229.5 185.72 L230.0 185.90 L230.5 186.22 L231.0 186.07 L231.5 186.12 L232.0 185.84 L232.5 186.02 L233.0 186.06 L233.5 185.88 L234.0 186.11 L234.5 186.05 L235.0 186.33 L235.5 186.07 L236.0 185.98 L236.5 185.80 L237.0 185.83 L237.5 186.19 L238.0 185.80 L238.5 185.79 L239.0 185.84 L239.5 186.05 L240.0 186.23 L240.5 186.10 L241.0 186.21 L241.5 185.76 L242.0 185.70 L242.5 186.10 L243.0 185.69 L243.5 185.69 L244.0 185.15 L244.5 184.72 L245.0 184.65 L245.5 184.68 L246.0 185.48 L246.5 185.61 L247.0 185.72 L247.5 185.91 L248.0 185.94 L248.5 185.76 L249.0 186.28 L249.5 186.10 L250.0 186.33 L250.5 186.02 L251.0 186.13 L251.5 185.90 L252.0 185.78 L252.5 186.30 L253.0 186.23 L253.5 185.83 L254.0 186.05 L254.5 185.85 L255.0 185.47 L255.5 185.72 L256.0 186.09 L256.5 185.94 L257.0 186.29 L257.5 185.90 L258.0 186.00 L258.5 186.20 L259.0 185.91 L259.5 185.96 L260.0 186.30 L260.5 186.07 L261.0 186.26 L261.5 185.93 L262.0 185.89 L262.5 186.00 L263.0 185.90 L263.5 186.37 L264.0 185.96 L264.5 186.12 L265.0 185.85 L265.5 186.11 L266.0 186.02 L266.5 186.03 L267.0 185.82 L267.5 185.86 L268.0 186.28 L268.5 185.99 L269.0 185.92 L269.5 185.88 L270.0 185.93 L270.5 185.88 L271.0 185.71 L271.5 185.92 L272.0 185.32 L272.5 184.43 L273.0 183.74 L273.5 182.63 L274.0 182.83 L274.5 184.02 L275.0 184.60 L275.5 185.49 L276.0 186.08 L276.5 186.20 L277.0 185.85 L277.5 185.99 L278.0 186.22 L278.5 186.02 L279.0 186.37 L279.5 185.92 L280.0 186.37 L280.5 186.11 L281.0 185.94 L281.5 186.08 L282.0 185.89 L282.5 186.24 L283.0 185.97 L283.5 186.35 L284.0 186.17 L284.5 186.03 L285.0 185.96 L285.5 186.18 L286.0 185.94 L286.5 186.33 L287.0 185.88 L287.5 186.11 L288.0 186.12 L288.5 185.95 L289.0 186.24 L289.5 185.99 L290.0 186.08 L290.5 185.81 L291.0 185.12 L291.5 184.14 L292.0 182.63 L292.5 181.70 L293.0 182.23 L293.5 183.04 L294.0 184.55 L294.5 185.14 L295.0 185.88 L295.5 185.93 L296.0 186.07 L296.5 185.97 L297.0 185.85 L297.5 186.00 L298.0 185.96 L298.5 185.90 L299.0 186.26 L299.5 186.00 L300.0 186.08 L300.5 186.38 L301.0 186.30 L301.5 186.37 L302.0 186.36 L302.5 185.92 L303.0 186.00 L303.5 185.85 L304.0 186.23 L304.5 186.20 L305.0 185.95 L305.5 185.84 L306.0 185.72 L306.5 185.35 L307.0 184.67 L307.5 184.81 L308.0 184.61 L308.5 185.14 L309.0 185.29 L309.5 185.58 L310.0 186.25 L310.5 186.24 L311.0 186.26 L311.5 185.87 L312.0 185.88 L312.5 185.96 L313.0 185.98 L313.5 186.05 L314.0 186.10 L314.5 185.89 L315.0 186.06 L315.5 186.26 L316.0 185.98 L316.5 186.38 L317.0 186.22 L317.5 186.31 L318.0 186.03 L318.5 186.14 L319.0 186.29 L319.5 186.09 L320.0 185.88 L320.5 186.38 L321.0 186.35 L321.5 186.06 L322.0 185.91 L322.5 186.40 L323.0 186.25 L323.5 185.91 L324.0 186.03 L324.5 185.95 L325.0 186.36 L325.5 186.01 L326.0 186.43 L326.5 186.33 L327.0 185.93 L327.5 186.29 L328.0 186.11 L328.5 186.32 L329.0 186.36 L329.5 186.03 L330.0 185.90 L330.5 186.41 L331.0 186.08 L331.5 186.35 L332.0 186.14 L332.5 186.01 L333.0 185.73 L333.5 184.98 L334.0 183.89 L334.5 182.42 L335.0 181.63 L335.5 180.77 L336.0 180.88 L336.5 181.73 L337.0 181.89 L337.5 182.61 L338.0 182.24 L338.5 182.70 L339.0 183.14 L339.5 183.51 L340.0 184.49 L340.5 185.44 L341.0 185.73 L341.5 185.95 L342.0 185.91 L342.5 185.86 L343.0 186.07 L343.5 186.12 L344.0 186.00 L344.5 186.07 L345.0 185.98 L345.5 186.32 L346.0 186.31 L346.5 186.05 L347.0 186.06 L347.5 186.22 L348.0 186.18 L348.5 186.48 L349.0 186.13 L349.5 186.10 L350.0 186.44 L350.5 185.96 L351.0 186.14 L351.5 185.88 L352.0 186.00 L352.5 185.68 L353.0 185.74 L353.5 185.46 L354.0 185.92 L354.5 186.05 L355.0 186.09 L355.5 186.35 L356.0 186.42 L356.5 186.01 L357.0 186.12 L357.5 186.16 L358.0 186.07 L358.5 185.99 L359.0 186.12 L359.5 186.07 L360.0 186.38 L360.5 186.23 L361.0 186.03 L361.5 186.15 L362.0 186.24 L362.5 186.18 L363.0 186.06 L363.5 186.01 L364.0 185.97 L364.5 186.56 L365.0 186.42 L365.5 186.02 L366.0 186.40 L366.5 186.56 L367.0 186.31 L367.5 186.04 L368.0 186.27 L368.5 186.23 L369.0 186.09 L369.5 186.30 L370.0 185.98 L370.5 186.53 L371.0 186.36 L371.5 186.36 L372.0 186.54 L372.5 186.37 L373.0 186.13 L373.5 186.13 L374.0 186.07 L374.5 186.00 L375.0 186.45 L375.5 186.49 L376.0 186.16 L376.5 186.10 L377.0 186.37 L377.5 186.49 L378.0 186.54 L378.5 186.09 L379.0 186.46 L379.5 186.48 L380.0 186.43 L380.5 186.18 L381.0 186.10 L381.5 186.48 L382.0 186.18 L382.5 186.20 L383.0 186.31 L383.5 186.20 L384.0 186.48 L384.5 186.12 L385.0 186.00 L385.5 186.31 L386.0 186.35 L386.5 186.46 L387.0 186.38 L387.5 186.49 L388.0 186.51 L388.5 186.22 L389.0 186.21 L389.5 185.96 L390.0 185.95 L390.5 185.87 L391.0 184.97 L391.5 184.17 L392.0 182.09 L392.5 180.28 L393.0 179.28 L393.5 178.91 L394.0 180.39 L394.5 182.60 L395.0 184.06 L395.5 185.28 L396.0 185.06 L396.5 185.25 L397.0 184.63 L397.5 183.95 L398.0 183.46 L398.5 183.68 L399.0 184.58 L399.5 185.21 L400.0 185.68 L400.5 185.93 L401.0 186.13 L401.5 186.32 L402.0 186.43 L402.5 186.49 L403.0 186.04 L403.5 186.11 L404.0 186.17 L404.5 186.19 L405.0 185.94 L405.5 185.62 L406.0 185.18 L406.5 184.79 L407.0 184.21 L407.5 183.86 L408.0 183.34 L408.5 183.19 L409.0 183.54 L409.5 184.11 L410.0 184.58 L410.5 185.32 L411.0 185.34 L411.5 186.02 L412.0 186.16 L412.5 186.07 L413.0 186.28 L413.5 186.52 L414.0 186.25 L414.5 186.35 L415.0 186.14 L415.5 186.16 L416.0 186.47 L416.5 185.94 L417.0 186.02 L417.5 186.28 L418.0 186.08 L418.5 185.74 L419.0 185.66 L419.5 183.98 L420.0 180.17 L420.5 173.54 L421.0 168.02 L421.5 168.79 L422.0 174.94 L422.5 180.93 L423.0 184.32 L423.5 185.94 L424.0 186.07 L424.5 185.91 L425.0 186.41 L425.5 186.08 L426.0 186.01 L426.5 186.29 L427.0 186.14 L427.5 186.29 L428.0 186.34 L428.5 186.15 L429.0 186.36 L429.5 186.09 L430.0 186.33 L430.5 186.38 L431.0 186.07 L431.5 186.27 L432.0 186.07 L432.5 186.29 L433.0 186.54 L433.5 186.35 L434.0 186.44 L434.5 186.46 L435.0 186.06 L435.5 186.57 L436.0 186.40 L436.5 186.00 L437.0 186.41 L437.5 186.11 L438.0 185.90 L438.5 186.17 L439.0 185.35 L439.5 183.94 L440.0 180.47 L440.5 176.48 L441.0 172.25 L441.5 171.75 L442.0 174.67 L442.5 178.10 L443.0 180.63 L443.5 180.68 L444.0 180.02 L444.5 179.68 L445.0 179.68 L445.5 180.63 L446.0 180.92 L446.5 180.93 L447.0 180.32 L447.5 180.68 L448.0 181.80 L448.5 183.03 L449.0 184.82 L449.5 185.48 L450.0 186.17 L450.5 186.30 L451.0 186.46 L451.5 186.07 L452.0 186.24 L452.5 186.48 L453.0 186.62 L453.5 186.49 L454.0 186.09 L454.5 186.44 L455.0 186.14 L455.5 186.42 L456.0 186.58 L456.5 186.17 L457.0 186.66 L457.5 186.51 L458.0 186.26 L458.5 186.23 L459.0 186.38 L459.5 186.62 L460.0 186.47 L460.5 186.19 L461.0 186.14 L461.5 186.19 L462.0 186.61 L462.5 186.24 L463.0 186.47 L463.5 186.31 L464.0 186.55 L464.5 186.37 L465.0 186.23 L465.5 186.67 L466.0 186.47 L466.5 186.56 L467.0 186.63 L467.5 186.72 L468.0 186.16 L468.5 186.36 L469.0 186.24 L469.5 186.45 L470.0 186.68 L470.5 186.64 L471.0 186.18 L471.5 186.27 L472.0 186.65 L472.5 186.57 L473.0 186.40 L473.5 186.45 L474.0 186.26 L474.5 186.67 L475.0 186.40 L475.5 186.69 L476.0 186.53 L476.5 186.21 L477.0 186.37 L477.5 186.30 L478.0 186.71 L478.5 186.53 L479.0 186.20 L479.5 186.28 L480.0 186.39 L480.5 186.46 L481.0 186.53 L481.5 186.41 L482.0 186.39 L482.5 186.19 L483.0 186.53 L483.5 186.38 L484.0 186.20 L484.5 186.46 L485.0 186.78 L485.5 186.22 L486.0 186.28 L486.5 186.59 L487.0 186.35 L487.5 186.36 L488.0 186.49 L488.5 186.35 L489.0 186.54 L489.5 186.51" stroke="#008800"/>
<path d="M39.5 245.77 L40.0 245.79 L40.5 245.22 L41.0 245.54 L41.5 245.66 L42.0 245.72 L42.5 245.66 L43.0 245.58 L43.5 245.58 L44.0 245.42 L44.5 245.37 L45.0 245.68 L45.5 245.73 L46.0 245.77 L46.5 245.61 L47.0 245.39 L47.5 245.66 L48.0 245.65 L48.5 245.51 L49.0 245.59 L49.5 245.41 L50.0 245.53 L50.5 245.45 L51.0 245.24 L51.5 245.41 L52.0 245.40 L52.5 245.80 L53.0 245.50 L53.5 245.43 L54.0 245.35 L54.5 245.35 L55.0 245.42 L55.5 245.29 L56.0 245.21 L56.5 245.73 L57.0 245.48 L57.5 245.48 L58.0 245.55 L58.5 245.39 L59.0 245.31 L59.5 245.25 L60.0 245.39 L60.5 245.40 L61.0 245.65 L61.5 245.54 L62.0 245.77 L62.5 245.42 L63.0 245.76 L63.5 245.56 L64.0 245.26 L64.5 245.32 L65.0 245.56 L65.5 245.81 L66.0 245.43 L66.5 245.68 L67.0 245.47 L67.5 245.74 L68.0 245.26 L68.5 245.51 L69.0 245.75 L69.5 245.38 L70.0 245.37 L70.5 245.23 L71.0 245.31 L71.5 245.38 L72.0 245.64 L72.5 245.35 L73.0 245.46 L73.5 245.34 L74.0 245.58 L74.5 245.74 L75.0 245.61 L75.5 245.34 L76.0 245.66 L76.5 245.80 L77.0 245.58 L77.5 245.27 L78.0 245.70 L78.5 245.74 L79.0 245.42 L79.5 245.30 L80.0 245.33 L80.5 245.54 L81.0 245.74 L81.5 245.60 L82.0 245.77 L82.5 245.35 L83.0 245.42 L83.5 245.67 L84.0 245.61 L84.5 245.46 L85.0 245.63 L85.5 245.42 L86.0 245.25 L86.5 245.47 L87.0 245.25 L87.5 245.59 L88.0 245.42 L88.5 245.51 L89.0 245.58 L89.5 245.37 L90.0 245.49 L90.5 245.22 L91.0 245.77 L91.5 245.55 L92.0 245.81 L92.5 245.25 L93.0 245.58 L93.5 245.65 L94.0 245.41 L94.5 245.26 L95.0 245.30 L95.5 245.29 L96.0 245.66 L96.5 245.25 L97.0 245.68 L97.5 245.45 L98.0 245.51 L98.5 245.54 L99.0 245.51 L99.5 245.56 L100.0 245.52 L100.5 245.35 L101.0 245.58 L101.5 245.28 L102.0 245.53 L102.5 245.53 L103.0 245.50 L103.5 245.17 L104.0 245.37 L104.5 245.32 L105.0 244.46 L105.5 242.64 L106.0 238.49 L106.5 231.31 L107.0 222.98 L107.5 220.44 L108.0 226.01 L108.5 234.37 L109.0 240.68 L109.5 243.47 L110.0 244.76 L110.5 244.10 L111.0 243.41 L111.5 241.35 L112.0 239.68 L112.5 239.27 L113.0 240.35 L113.5 242.45 L114.0 244.02 L114.5 244.67 L115.0 245.50 L115.5 245.29 L116.0 245.20 L116.5 245.25 L117.0 245.60 L117.5 245.72 L118.0 245.28 L118.5 245.21 L119.0 245.66 L119.5 245.35 L120.0 245.80 L120.5 245.51 L121.0 245.60 L121.5 245.42 L122.0 245.70 L122.5 245.50 L123.0 245.42 L123.5 245.77 L124.0 245.29 L124.5 245.67 L125.0 245.27 L125.5 245.62 L126.0 245.47 L126.5 245.75 L127.0 245.27 L127.5 245.57 L128.0 245.48 L128.5 245.79 L129.0 245.80 L129.5 245.61 L130.0 245.37 L130.5 245.38 L131.0 245.39 L131.5 245.49 L132.0 245.35 L132.5 245.29 L133.0 245.54 L133.5 245.28 L134.0 244.80 L134.5 244.91 L135.0 244.24 L135.5 244.48 L136.0 244.47 L136.5 245.20 L137.0 245.47 L137.5 245.27 L138.0 245.64 L138.5 245.72 L139.0 245.40 L139.5 245.44 L140.0 245.54 L140.5 245.78 L141.0 245.35 L141.5 245.66 L142.0 245.61 L142.5 245.52 L143.0 245.60 L143.5 245.78 L144.0 245.38 L144.5 245.79 L145.0 245.47 L145.5 245.73 L146.0 245.78 L146.5 245.37 L147.0 245.78 L147.5 245.86 L148.0 245.44 L148.5 245.27 L149.0 245.33 L149.5 245.85 L150.0 245.27 L150.5 245.81 L151.0 245.35 L151.5 245.70 L152.0 245.32 L152.5 245.36 L153.0 245.67 L153.5 245.32 L154.0 245.47 L154.5 245.81 L155.0 245.69 L155.5 245.79 L156.0 245.85 L156.5 245.28 L157.0 245.40 L157.5 245.74 L158.0 245.68 L158.5 245.29 L159.0 245.57 L159.5 245.40 L160.0 245.52 L160.5 245.33 L161.0 245.27 L161.5 245.86 L162.0 245.45 L162.5 245.79 L163.0 245.33 L163.5 245.55 L164.0 245.34 L164.5 245.52 L165.0 245.36 L165.5 245.67 L166.0 245.34 L166.5 245.69 L167.0 245.53 L167.5 245.25 L168.0 245.27 L168.5 245.06 L169.0 244.89 L169.5 244.22 L170.0 244.18 L170.5 245.01 L171.0 245.36 L171.5 245.53 L172.0 245.36 L172.5 245.34 L173.0 245.40 L173.5 245.29 L174.0 245.27 L174.5 245.55 L175.0 245.49 L175.5 245.58 L176.0 245.47 L176.5 245.25 L177.0 245.66 L177.5 245.64 L178.0 245.57 L178.5 245.57 L179.0 245.65 L179.5 245.83 L180.0 245.76 L180.5 245.66 L181.0 245.47 L181.5 245.42 L182.0 245.47 L182.5 245.80 L183.0 245.44 L183.5 245.44 L184.0 245.44 L184.5 245.28 L185.0 245.78 L185.5 245.17 L186.0 245.52 L186.5 245.69 L187.0 245.27 L187.5 245.45 L188.0 245.27 L188.5 245.11 L189.0 244.88 L189.5 244.22 L190.0 243.15 L190.5 240.29 L191.0 236.67 L191.5 233.43 L192.0 234.14 L192.5 236.99 L193.0 240.76 L193.5 243.22 L194.0 244.31 L194.5 245.13 L195.0 244.64 L195.5 245.06 L196.0 245.05 L196.5 244.72 L197.0 244.59 L197.5 244.53 L198.0 243.46 L198.5 242.14 L199.0 238.10 L199.5 228.86 L200.0 214.19 L200.5 197.44 L201.0 189.59 L201.5 197.58 L202.0 214.18 L202.5 228.84 L203.0 238.06 L203.5 242.12 L204.0 243.50 L204.5 244.35 L205.0 244.46 L205.5 245.05 L206.0 244.93 L206.5 245.19 L207.0 245.15 L207.5 245.19 L208.0 245.09 L208.5 245.09 L209.0 245.60 L209.5 245.39 L210.0 245.41 L210.5 245.44 L211.0 245.63 L211.5 245.30 L212.0 245.27 L212.5 245.67 L213.0 245.47 L213.5 245.59 L214.0 245.71 L214.5 245.75 L215.0 245.75 L215.5 245.26 L216.0 245.47 L216.5 245.74 L217.0 245.74 L217.5 245.33 L218.0 245.35 L218.5 245.41 L219.0 245.32 L219.5 245.48 L220.0 245.75 L220.5 245.58 L221.0 245.55 L221.5 245.33 L222.0 245.52 L222.5 245.88 L223.0 245.70 L223.5 245.55 L224.0 245.57 L224.5 245.77 L225.0 245.75 L225.5 245.38 L226.0 245.70 L226.5 245.52 L227.0 245.61 L227.5 245.44 L228.0 245.52 L228.5 245.50 L229.0 245.53 L229.5 245.31 L230.0 245.42 L230.5 245.65 L231.0 245.34 L231.5 245.41 L232.0 245.74 L232.5 245.47 L233.0 245.50 L233.5 245.46 L234.0 245.81 L234.5 245.37 L235.0 245.69 L235.5 245.83 L236.0 245.43 L236.5 245.57 L237.0 245.79 L237.5 245.69 L238.0 245.54 L238.5 245.34 L239.0 245.58 L239.5 245.54 L240.0 245.75 L240.5 245.50 L241.0 245.56 L241.5 245.71 L242.0 245.81 L242.5 245.53 L243.0 245.55 L243.5 245.67 L244.0 245.88 L244.5 245.44 L245.0 245.91 L245.5 245.75 L246.0 245.55 L246.5 245.73 L247.0 245.52 L247.5 245.37 L248.0 245.78 L248.5 245.56 L249.0 245.64 L249.5 245.63 L250.0 245.87 L250.5 245.78 L251.0 245.34 L251.5 245.69 L252.0 245.61 L252.5 245.61 L253.0 245.83 L253.5 245.58 L254.0 245.62 L254.5 245.87 L255.0 245.60 L255.5 245.63 L256.0 245.64 L256.5 245.83 L257.0 245.73 L257.5 245.78 L258.0 245.57 L258.5 245.36 L259.0 245.74 L259.5 245.66 L260.0 245.79 L260.5 245.79 L261.0 245.40 L261.5 245.46 L262.0 245.38 L262.5 245.82 L263.0 245.39 L263.5 245.38 L264.0 245.78 L264.5 245.66 L265.0 245.36 L265.5 245.73 L266.0 245.74 L266.5 245.60 L267.0 245.34 L267.5 245.72 L268.0 245.55 L268.5 245.63 L269.0 245.87 L269.5 245.73 L270.0 245.71 L270.5 245.10 L271.0 244.77 L271.5 243.91 L272.0 241.96 L272.5 240.59 L273.0 238.80 L273.5 238.96 L274.0 240.57 L274.5 242.49 L275.0 244.36 L275.5 245.03 L276.0 245.37 L276.5 245.46 L277.0 245.29 L277.5 245.46 L278.0 245.81 L278.5 245.78 L279.0 245.83 L279.5 245.47 L280.0 245.44 L280.5 245.36 L281.0 245.65 L281.5 245.56 L282.0 245.61 L282.5 245.63 L283.0 245.69 L283.5 245.56 L284.0 245.82 L284.5 245.46 L285.0 245.89 L285.5 245.68 L286.0 245.37 L286.5 245.53 L287.0 245.66 L287.5 245.58 L288.0 245.68 L288.5 245.53 L289.0 245.49 L289.5 245.80 L290.0 245.46 L290.5 245.62 L291.0 245.44 L291.5 244.83 L292.0 244.07 L292.5 243.77 L293.0 243.41 L293.5 244.18 L294.0 244.39 L294.5 245.15 L295.0 245.55 L295.5 245.31 L296.0 245.84 L296.5 245.38 L297.0 245.70 L297.5 245.45 L298.0 245.90 L298.5 245.69 L299.0 245.83 L299.5 245.65 L300.0 245.76 L300.5 245.76 L301.0 245.53 L301.5 245.48 L302.0 245.86 L302.5 245.44 L303.0 245.91 L303.5 245.48 L304.0 245.41 L304.5 245.40 L305.0 245.80 L305.5 245.86 L306.0 245.44 L306.5 245.42 L307.0 244.95 L307.5 245.13 L308.0 244.90 L308.5 244.68 L309.0 244.83 L309.5 245.45 L310.0 245.22 L310.5 245.79 L311.0 245.51 L311.5 245.49 L312.0 245.71 L312.5 245.55 L313.0 245.70 L313.5 245.46 L314.0 245.91 L314.5 245.56 L315.0 245.87 L315.5 245.46 L316.0 245.85 L316.5 245.96 L317.0 245.61 L317.5 245.39 L318.0 245.60 L318.5 245.76 L319.0 245.51 L319.5 245.70 L320.0 245.43 L320.5 245.65 L321.0 245.81 L321.5 245.63 L322.0 245.78 L322.5 245.44 L323.0 245.87 L323.5 245.44 L324.0 245.92 L324.5 245.96 L325.0 245.93 L325.5 245.68 L326.0 245.54 L326.5 245.57 L327.0 245.81 L327.5 245.65 L328.0 245.91 L328.5 245.40 L329.0 245.63 L329.5 245.85 L330.0 245.68 L330.5 245.64 L331.0 245.36 L331.5 245.37 L332.0 245.42 L332.5 245.73 L333.0 245.57 L333.5 244.91 L334.0 244.71 L334.5 243.07 L335.0 241.74 L335.5 239.93 L336.0 237.70 L336.5 237.09 L337.0 237.35 L337.5 238.58 L338.0 240.79 L338.5 242.72 L339.0 243.93 L339.5 245.02 L340.0 245.09 L340.5 245.64 L341.0 245.42 L341.5 245.32 L342.0 245.64 L342.5 245.38 L343.0 245.66 L343.5 245.81 L344.0 245.71 L344.5 245.63 L345.0 245.38 L345.5 245.67 L346.0 245.43 L346.5 245.76 L347.0 245.45 L347.5 245.72 L348.0 245.59 L348.5 245.61 L349.0 245.78 L349.5 245.48 L350.0 245.49 L350.5 245.95 L351.0 245.59 L351.5 245.90 L352.0 245.92 L352.5 245.68 L353.0 245.48 L353.5 245.45 L354.0 245.92 L354.5 245.47 L355.0 245.70 L355.5 245.72 L356.0 245.47 L356.5 245.68 L357.0 245.50 L357.5 245.72 L358.0 245.71 L358.5 245.62 L359.0 245.52 L359.5 245.65 L360.0 245.53 L360.5 245.48 L361.0 245.55 L361.5 245.93 L362.0 245.71 L362.5 245.94 L363.0 245.42 L363.5 245.97 L364.0 245.70 L364.5 245.88 L365.0 245.75 L365.5 245.82 L366.0 245.55 L366.5 245.86 L367.0 245.50 L367.5 245.57 L368.0 245.43 L368.5 245.65 L369.0 245.72 L369.5 245.59 L370.0 245.95 L370.5 245.46 L371.0 245.76 L371.5 245.55 L372.0 245.77 L372.5 245.88 L373.0 245.84 L373.5 245.45 L374.0 245.56 L374.5 245.77 L375.0 246.00 L375.5 245.44 L376.0 245.78 L376.5 245.83 L377.0 245.90 L377.5 245.62 L378.0 245.90 L378.5 245.69 L379.0 245.97 L379.5 245.42 L380.0 245.98 L380.5 245.66 L381.0 245.66 L381.5 245.46 L382.0 245.56 L382.5 245.85 L383.0 245.81 L383.5 245.50 L384.0 245.61 L384.5 245.49 L385.0 245.52 L385.5 245.53 L386.0 245.59 L386.5 245.97 L387.0 245.98 L387.5 245.85 L388.0 245.65 L388.5 245.64 L389.0 245.79 L389.5 245.80 L390.0 245.55 L390.5 245.09 L391.0 243.98 L391.5 242.82 L392.0 241.14 L392.5 239.54 L393.0 238.68 L393.5 240.04 L394.0 241.58 L394.5 243.18 L395.0 244.84 L395.5 245.31 L396.0 245.63 L396.5 245.37 L397.0 245.83 L397.5 245.92 L398.0 245.91 L398.5 245.82 L399.0 245.88 L399.5 245.87 L400.0 245.75 L400.5 245.65 L401.0 245.89 L401.5 245.87 L402.0 245.92 L402.5 245.57 L403.0 245.97 L403.5 245.70 L404.0 245.94 L404.5 245.41 L405.0 245.83 L405.5 245.51 L406.0 244.75 L406.5 244.40 L407.0 243.20 L407.5 242.53 L408.0 242.62 L408.5 243.04 L409.0 244.03 L409.5 245.03 L410.0 245.39 L410.5 245.65 L411.0 245.57 L411.5 245.85 L412.0 245.87 L412.5 245.81 L413.0 245.97 L413.5 245.91 L414.0 245.66 L414.5 245.47 L415.0 245.81 L415.5 245.92 L416.0 245.62 L416.5 245.78 L417.0 245.92 L417.5 245.89 L418.0 245.41 L418.5 245.69 L419.0 245.36 L419.5 245.31 L420.0 245.53 L420.5 245.00 L421.0 244.82 L421.5 244.56 L422.0 244.56 L422.5 244.76 L423.0 245.15 L423.5 245.68 L424.0 245.69 L424.5 245.56 L425.0 245.46 L425.5 245.58 L426.0 245.84 L426.5 245.69 L427.0 245.82 L427.5 245.91 L428.0 245.50 L428.5 245.84 L429.0 245.45 L429.5 245.92 L430.0 245.54 L430.5 245.59 L431.0 246.00 L431.5 245.64 L432.0 245.56 L432.5 245.95 L433.0 245.78 L433.5 245.95 L434.0 245.65 L434.5 245.70 L435.0 245.97 L435.5 245.69 L436.0 245.98 L436.5 245.48 L437.0 245.85 L437.5 245.43 L438.0 245.60 L438.5 245.17 L439.0 245.02 L439.5 245.00 L440.0 243.98 L440.5 243.37 L441.0 242.46 L441.5 242.52 L442.0 242.84 L442.5 243.51 L443.0 242.94 L443.5 239.20 L444.0 232.07 L444.5 225.06 L445.0 223.75 L445.5 228.83 L446.0 233.25 L446.5 234.01 L447.0 232.39 L447.5 233.62 L448.0 237.13 L448.5 241.40 L449.0 243.96 L449.5 244.93 L450.0 245.39 L450.5 245.61 L451.0 245.81 L451.5 245.60 L452.0 245.55 L452.5 245.94 L453.0 245.40 L453.5 245.88 L454.0 245.80 L454.5 245.74 L455.0 245.68 L455.5 245.87 L456.0 245.96 L456.5 245.87 L457.0 245.88 L457.5 245.46 L458.0 245.64 L458.5 245.53 L459.0 246.02 L459.5 245.98 L460.0 245.54 L460.5 245.81 L461.0 245.80 L461.5 245.49 L462.0 245.70 L462.5 245.91 L463.0 245.85 L463.5 245.63 L464.0 245.92 L464.5 245.64 L465.0 245.79 L465.5 245.72 L466.0 246.06 L466.5 245.86 L467.0 245.95 L467.5 245.88 L468.0 245.70 L468.5 246.05 L469.0 245.90 L469.5 245.89 L470.0 245.64 L470.5 245.57 L471.0 245.82 L471.5 245.97 L472.0 245.96 L472.5 245.69 L473.0 245.56 L473.5 245.79 L474.0 246.01 L474.5 245.58 L475.0 245.93 L475.5 245.59 L476.0 245.67 L476.5 245.52 L477.0 245.66 L477.5 245.72 L478.0 246.07 L478.5 246.06 L479.0 245.60 L479.5 245.67 L480.0 246.05 L480.5 245.61 L481.0 245.68 L481.5 245.75 L482.0 245.55 L482.5 245.65 L483.0 245.73 L483.5 245.72 L484.0 246.07 L484.5 245.65 L485.0 245.61 L485.5 246.04 L486.0 245.76 L486.5 246.00 L487.0 245.88 L487.5 245.96 L488.0 245.68 L488.5 245.59 L489.0 245.95 L489.5 245.78" stroke="#f00000"/>
<path d="M39.5 305.38 L40.0 305.45 L40.5 305.50 L41.0 305.21 L41.5 305.27 L42.0 305.60 L42.5 305.37 L43.0 305.22 L43.5 305.43 L44.0 305.20 L44.5 305.51 L45.0 305.07 L45.5 305.54 L46.0 305.39 L46.5 305.26 L47.0 305.61 L47.5 305.21 L48.0 305.19 L48.5 305.09 L49.0 305.38 L49.5 305.50 L50.0 305.46 L50.5 305.30 L51.0 305.53 L51.5 305.12 L52.0 305.23 L52.5 305.44 L53.0 305.63 L53.5 305.43 L54.0 305.46 L54.5 305.51 L55.0 305.29 L55.5 305.61 L56.0 305.49 L56.5 305.25 L57.0 305.28 L57.5 305.53 L58.0 305.26 L58.5 305.16 L59.0 305.57 L59.5 305.37 L60.0 305.36 L60.5 305.45 L61.0 305.59 L61.5 305.13 L62.0 305.25 L62.5 305.09 L63.0 305.30 L63.5 305.35 L64.0 305.56 L64.5 305.45 L65.0 305.40 L65.5 305.29 L66.0 305.39 L66.5 305.21 L67.0 305.56 L67.5 305.52 L68.0 305.55 L68.5 305.14 L69.0 305.45 L69.5 305.50 L70.0 305.35 L70.5 305.59 L71.0 305.59 L71.5 305.49 L72.0 305.54 L72.5 305.44 L73.0 305.58 L73.5 305.13 L74.0 305.47 L74.5 305.47 L75.0 305.42 L75.5 305.21 L76.0 305.09 L76.5 305.41 L77.0 305.54 L77.5 305.21 L78.0 305.18 L78.5 305.18 L79.0 305.10 L79.5 305.45 L80.0 305.63 L80.5 305.53 L81.0 305.26 L81.5 305.47 L82.0 305.09 L82.5 305.55 L83.0 305.24 L83.5 305.05 L84.0 305.42 L84.5 305.13 L85.0 305.21 L85.5 305.08 L86.0 305.31 L86.5 305.38 L87.0 305.53 L87.5 305.07 L88.0 305.54 L88.5 305.11 L89.0 305.17 L89.5 305.42 L90.0 305.24 L90.5 305.24 L91.0 305.38 L91.5 305.17 L92.0 305.51 L92.5 305.16 L93.0 305.53 L93.5 305.51 L94.0 305.35 L94.5 305.04 L95.0 305.49 L95.5 305.04 L96.0 305.32 L96.5 305.27 L97.0 305.05 L97.5 305.39 L98.0 305.44 L98.5 305.35 L99.0 305.23 L99.5 305.29 L100.0 305.33 L100.5 305.10 L101.0 305.47 L101.5 305.53 L102.0 305.40 L102.5 305.46 L103.0 305.05 L103.5 305.40 L104.0 304.79 L104.5 304.94 L105.0 304.56 L105.5 304.29 L106.0 303.01 L106.5 299.35 L107.0 292.32 L107.5 284.00 L108.0 279.81 L108.5 284.03 L109.0 292.22 L109.5 299.04 L110.0 303.04 L110.5 304.33 L111.0 304.74 L111.5 304.77 L112.0 305.17 L112.5 304.93 L113.0 305.01 L113.5 305.22 L114.0 305.33 L114.5 305.52 L115.0 305.40 L115.5 305.53 L116.0 305.53 L116.5 305.42 L117.0 305.42 L117.5 305.04 L118.0 305.13 L118.5 305.02 L119.0 305.53 L119.5 305.45 L120.0 305.40 L120.5 305.18 L121.0 305.24 L121.5 305.13 L122.0 305.41 L122.5 305.63 L123.0 305.22 L123.5 305.06 L124.0 305.14 L124.5 305.25 L125.0 305.58 L125.5 305.52 L126.0 305.31 L126.5 305.10 L127.0 305.11 L127.5 305.14 L128.0 305.51 L128.5 305.33 L129.0 305.64 L129.5 305.59 L130.0 305.52 L130.5 305.33 L131.0 305.54 L131.5 305.12 L132.0 305.11 L132.5 305.39 L133.0 305.35 L133.5 305.17 L134.0 305.20 L134.5 305.06 L135.0 305.59 L135.5 305.48 L136.0 305.62 L136.5 305.64 L137.0 305.31 L137.5 305.49 L138.0 305.28 L138.5 305.54 L139.0 305.56 L139.5 305.13 L140.0 305.06 L140.5 305.18 L141.0 305.40 L141.5 305.28 L142.0 305.06 L142.5 305.55 L143.0 305.52 L143.5 305.33 L144.0 305.08 L144.5 305.59 L145.0 305.37 L145.5 305.10 L146.0 305.25 L146.5 305.43 L147.0 305.58 L147.5 305.34 L148.0 305.44 L148.5 305.18 L149.0 305.20 L149.5 305.60 L150.0 305.28 L150.5 305.12 L151.0 305.41 L151.5 305.13 L152.0 305.17 L152.5 305.33 L153.0 305.40 L153.5 305.43 L154.0 305.48 L154.5 305.32 L155.0 305.09 L155.5 305.49 L156.0 305.08 L156.5 305.33 L157.0 305.29 L157.5 305.46 L158.0 305.48 L158.5 305.20 L159.0 305.44 L159.5 305.47 L160.0 305.33 L160.5 305.14 L161.0 305.60 L161.5 305.41 L162.0 305.09 L162.5 305.19 L163.0 305.64 L163.5 305.19 L164.0 305.29 L164.5 305.52 L165.0 305.54 L165.5 305.43 L166.0 305.49 L166.5 305.07 L167.0 305.10 L167.5 305.63 L168.0 305.53 L168.5 305.07 L169.0 305.08 L169.5 305.19 L170.0 305.60 L170.5 305.18 L171.0 305.45 L171.5 305.60 L172.0 305.43 L172.5 305.60 L173.0 305.20 L173.5 305.13 L174.0 305.05 L174.5 305.50 L175.0 305.10 L175.5 305.62 L176.0 305.46 L176.5 305.15 L177.0 305.52 L177.5 305.13 L178.0 305.34 L178.5 305.10 L179.0 305.50 L179.5 305.56 L180.0 305.58 L180.5 305.03 L181.0 305.54 L181.5 305.36 L182.0 305.51 L182.5 305.32 L183.0 305.39 L183.5 305.37 L184.0 305.49 L184.5 305.06 L185.0 305.04 L185.5 305.33 L186.0 305.17 L186.5 305.23 L187.0 304.99 L187.5 305.43 L188.0 304.99 L188.5 305.47 L189.0 305.45 L189.5 305.23 L190.0 305.02 L190.5 305.32 L191.0 305.04 L191.5 305.16 L192.0 304.95 L192.5 305.45 L193.0 305.17 L193.5 305.03 L194.0 304.84 L194.5 305.18 L195.0 305.20 L195.5 305.13 L196.0 304.60 L196.5 304.65 L197.0 304.47 L197.5 304.54 L198.0 303.87 L198.5 303.58 L199.0 302.32 L199.5 297.97 L200.0 287.34 L200.5 269.77 L201.0 250.64 L201.5 244.76 L202.0 257.97 L202.5 277.82 L203.0 292.59 L203.5 299.96 L204.0 302.89 L204.5 303.89 L205.0 304.47 L205.5 304.61 L206.0 304.83 L206.5 305.03 L207.0 305.08 L207.5 305.08 L208.0 304.73 L208.5 305.17 L209.0 305.31 L209.5 305.09 L210.0 305.38 L210.5 304.98 L211.0 305.46 L211.5 305.18 L212.0 305.35 L212.5 305.09 L213.0 305.13 L213.5 305.17 L214.0 305.16 L214.5 305.03 L215.0 305.24 L215.5 305.57 L216.0 305.38 L216.5 305.55 L217.0 305.45 L217.5 305.50 L218.0 305.60 L218.5 305.46 L219.0 305.17 L219.5 305.16 L220.0 305.25 L220.5 305.02 L221.0 305.14 L221.5 305.51 L222.0 305.48 L222.5 305.00 L223.0 305.02 L223.5 304.65 L224.0 304.31 L224.5 303.97 L225.0 303.85 L225.5 303.92 L226.0 304.77 L226.5 304.82 L227.0 305.23 L227.5 305.18 L228.0 305.33 L228.5 305.60 L229.0 305.13 L229.5 305.35 L230.0 305.43 L230.5 305.36 L231.0 305.60 L231.5 305.29 L232.0 305.59 L232.5 305.46 L233.0 305.63 L233.5 305.10 L234.0 305.18 L234.5 305.22 L235.0 305.60 L235.5 305.06 L236.0 305.21 L236.5 305.48 L237.0 305.65 L237.5 305.16 L238.0 305.32 L238.5 305.47 L239.0 305.47 L239.5 305.50 L240.0 305.51 L240.5 305.21 L241.0 305.21 L241.5 305.07 L242.0 305.47 L242.5 305.18 L243.0 305.21 L243.5 305.64 L244.0 305.45 L244.5 305.41 L245.0 305.45 L245.5 305.42 L246.0 305.48 L246.5 305.24 L247.0 305.10 L247.5 305.10 L248.0 305.07 L248.5 305.28 L249.0 305.15 L249.5 305.13 L250.0 305.36 L250.5 305.64 L251.0 305.47 L251.5 305.22 L252.0 305.52 L252.5 305.17 L253.0 305.12 L253.5 305.24 L254.0 305.31 L254.5 305.47 L255.0 305.33 L255.5 305.50 L256.0 305.12 L256.5 305.62 L257.0 305.26 L257.5 305.56 L258.0 305.08 L258.5 305.55 L259.0 305.19 L259.5 305.57 L260.0 305.54 L260.5 305.46 L261.0 305.22 L261.5 305.06 L262.0 305.16 L262.5 305.59 L263.0 305.14 L263.5 305.44 L264.0 305.40 L264.5 305.44 L265.0 305.15 L265.5 305.12 L266.0 305.09 L266.5 305.61 L267.0 305.25 L267.5 305.40 L268.0 305.34 L268.5 305.12 L269.0 305.00 L269.5 304.95 L270.0 305.42 L270.5 304.92 L271.0 305.27 L271.5 304.44 L272.0 303.36 L272.5 300.24 L273.0 296.41 L273.5 291.98 L274.0 290.80 L274.5 293.60 L275.0 297.81 L275.5 301.62 L276.0 304.06 L276.5 304.64 L277.0 305.00 L277.5 305.34 L278.0 305.06 L278.5 305.07 L279.0 305.11 L279.5 305.22 L280.0 305.22 L280.5 305.40 L281.0 305.30 L281.5 305.55 L282.0 305.06 L282.5 305.44 L283.0 305.54 L283.5 305.19 L284.0 305.07 L284.5 305.31 L285.0 305.12 L285.5 305.33 L286.0 305.48 L286.5 305.11 L287.0 305.13 L287.5 305.35 L288.0 305.16 L288.5 305.20 L289.0 305.33 L289.5 305.13 L290.0 305.10 L290.5 305.28 L291.0 305.35 L291.5 305.63 L292.0 305.40 L292.5 305.11 L293.0 305.20 L293.5 305.51 L294.0 305.41 L294.5 305.59 L295.0 305.65 L295.5 305.58 L296.0 305.14 L296.5 305.64 L297.0 305.38 L297.5 305.21 L298.0 305.17 L298.5 305.59 L299.0 305.20 L299.5 305.12 L300.0 305.23 L300.5 305.63 L301.0 305.35 L301.5 305.51 L302.0 305.12 L302.5 305.34 L303.0 305.26 L303.5 305.20 L304.0 305.47 L304.5 305.29 L305.0 305.14 L305.5 305.66 L306.0 305.36 L306.5 305.18 L307.0 305.08 L307.5 305.46 L308.0 305.38 L308.5 305.09 L309.0 305.36 L309.5 305.52 L310.0 305.40 L310.5 305.21 L311.0 305.37 L311.5 305.44 L312.0 305.46 L312.5 305.16 L313.0 305.55 L313.5 305.64 L314.0 305.52 L314.5 305.59 L315.0 305.29 L315.5 305.61 L316.0 305.18 L316.5 305.21 L317.0 305.43 L317.5 305.61 L318.0 305.12 L318.5 305.20 L319.0 305.09 L319.5 305.33 L320.0 305.15 L320.5 305.18 L321.0 305.52 L321.5 305.42 L322.0 305.63 L322.5 305.31 L323.0 305.47 L323.5 305.07 L324.0 305.63 L324.5 305.20 L325.0 305.35 L325.5 305.37 L326.0 305.63 L326.5 305.35 L327.0 305.65 L327.5 305.43 L328.0 305.18 L328.5 305.55 L329.0 305.17 L329.5 305.64 L330.0 305.31 L330.5 305.17 L331.0 305.60 L331.5 305.21 L332.0 305.24 L332.5 305.19 L333.0 305.36 L333.5 304.92 L334.0 305.01 L334.5 304.57 L335.0 304.22 L335.5 302.28 L336.0 300.44 L336.5 297.76 L337.0 296.24 L337.5 296.50 L338.0 298.50 L338.5 300.64 L339.0 302.78 L339.5 304.00 L340.0 305.14 L340.5 304.91 L341.0 305.01 L341.5 305.28 L342.0 305.34 L342.5 305.54 L343.0 305.05 L343.5 305.17 L344.0 305.13 L344.5 305.39 L345.0 305.32 L345.5 305.29 L346.0 305.59 L346.5 305.45 L347.0 305.57 L347.5 305.63 L348.0 305.22 L348.5 305.63 L349.0 305.31 L349.5 305.10 L350.0 305.62 L350.5 305.13 L351.0 305.08 L351.5 305.24 L352.0 305.24 L352.5 305.65 L353.0 305.60 L353.5 305.33 L354.0 305.39 L354.5 305.58 L355.0 305.56 L355.5 305.47 L356.0 305.38 L356.5 305.15 L357.0 305.22 L357.5 305.47 L358.0 305.43 L358.5 305.56 L359.0 305.62 L359.5 305.66 L360.0 305.19 L360.5 305.12 L361.0 305.62 L361.5 305.42 L362.0 305.19 L362.5 305.49 L363.0 305.23 L363.5 305.22 L364.0 305.30 L364.5 305.39 L365.0 305.49 L365.5 305.12 L366.0 305.52 L366.5 305.45 L367.0 305.36 L367.5 305.48 L368.0 305.56 L368.5 305.09 L369.0 305.36 L369.5 305.49 L370.0 305.50 L370.5 305.47 L371.0 305.19 L371.5 305.65 L372.0 305.55 L372.5 305.22 L373.0 305.34 L373.5 305.65 L374.0 305.20 L374.5 305.32 L375.0 305.66 L375.5 305.62 L376.0 305.22 L376.5 305.52 L377.0 305.29 L377.5 305.47 L378.0 305.54 L378.5 305.15 L379.0 305.21 L379.5 305.20 L380.0 305.23 L380.5 305.09 L381.0 305.15 L381.5 305.31 L382.0 305.32 L382.5 305.12 L383.0 305.42 L383.5 305.63 L384.0 305.41 L384.5 305.27 L385.0 305.48 L385.5 305.32 L386.0 305.16 L386.5 305.34 L387.0 305.05 L387.5 305.44 L388.0 305.12 L388.5 305.23 L389.0 305.57 L389.5 305.43 L390.0 305.42 L390.5 305.17 L391.0 304.82 L391.5 304.08 L392.0 302.78 L392.5 300.23 L393.0 298.40 L393.5 296.92 L394.0 297.43 L394.5 299.69 L395.0 301.79 L395.5 303.68 L396.0 304.72 L396.5 305.04 L397.0 305.00 L397.5 304.96 L398.0 305.31 L398.5 305.44 L399.0 305.18 L399.5 305.07 L400.0 305.04 L400.5 305.15 L401.0 305.47 L401.5 305.06 L402.0 305.20 L402.5 305.22 L403.0 305.49 L403.5 305.66 L404.0 305.08 L404.5 305.14 L405.0 305.63 L405.5 305.65 L406.0 305.16 L406.5 305.28 L407.0 305.39 L407.5 305.27 L408.0 305.33 L408.5 305.37 L409.0 305.23 L409.5 305.11 L410.0 305.13 L410.5 305.18 L411.0 305.14 L411.5 305.46 L412.0 305.50 L412.5 305.24 L413.0 305.56 L413.5 305.52 L414.0 305.29 L414.5 305.38 L415.0 305.20 L415.5 305.64 L416.0 305.42 L416.5 305.11 L417.0 305.18 L417.5 305.50 L418.0 305.31 L418.5 305.51 L419.0 305.22 L419.5 305.56 L420.0 305.56 L420.5 305.14 L421.0 305.43 L421.5 305.20 L422.0 305.51 L422.5 305.56 L423.0 305.56 L423.5 305.22 L424.0 305.14 L424.5 305.48 L425.0 305.42 L425.5 305.16 L426.0 305.20 L426.5 305.43 L427.0 305.14 L427.5 305.46 L428.0 305.22 L428.5 305.23 L429.0 305.33 L429.5 305.40 L430.0 305.51 L430.5 305.09 L431.0 305.51 L431.5 305.21 L432.0 305.25 L432.5 305.45 L433.0 305.48 L433.5 305.44 L434.0 305.61 L434.5 305.19 L435.0 305.25 L435.5 305.45 L436.0 305.21 L436.5 305.14 L437.0 305.18 L437.5 305.50 L438.0 305.53 L438.5 305.45 L439.0 305.59 L439.5 305.48 L440.0 305.17 L440.5 305.16 L441.0 305.37 L441.5 304.93 L442.0 305.20 L442.5 304.72 L443.0 304.26 L443.5 303.49 L444.0 301.13 L444.5 298.15 L445.0 294.00 L445.5 290.59 L446.0 290.09 L446.5 292.77 L447.0 297.09 L447.5 300.76 L448.0 303.07 L448.5 304.52 L449.0 304.93 L449.5 305.28 L450.0 304.96 L450.5 304.98 L451.0 305.20 L451.5 305.27 L452.0 305.15 L452.5 305.42 L453.0 305.16 L453.5 305.22 L454.0 305.33 L454.5 305.47 L455.0 305.51 L455.5 305.28 L456.0 305.33 L456.5 305.62 L457.0 305.63 L457.5 305.44 L458.0 305.13 L458.5 305.35 L459.0 305.46 L459.5 305.24 L460.0 305.10 L460.5 305.67 L461.0 305.63 L461.5 305.16 L462.0 305.36 L462.5 305.45 L463.0 305.26 L463.5 305.13 L464.0 305.54 L464.5 305.55 L465.0 305.35 L465.5 305.14 L466.0 305.32 L466.5 305.14 L467.0 305.67 L467.5 305.12 L468.0 305.26 L468.5 305.55 L469.0 305.17 L469.5 305.15 L470.0 305.13 L470.5 305.19 L471.0 305.41 L471.5 305.59 L472.0 305.19 L472.5 305.20 L473.0 305.55 L473.5 305.35 L474.0 305.30 L474.5 305.17 L475.0 305.24 L475.5 305.68 L476.0 305.16 L476.5 305.25 L477.0 305.54 L477.5 305.63 L478.0 305.64 L478.5 305.38 L479.0 305.67 L479.5 305.46 L480.0 305.27 L480.5 305.37 L481.0 305.52 L481.5 305.54 L482.0 305.17 L482.5 305.21 L483.0 305.67 L483.5 305.16 L484.0 305.58 L484.5 305.30 L485.0 305.25 L485.5 305.25 L486.0 305.38 L486.5 305.69 L487.0 305.19 L487.5 305.61 L488.0 305.29 L488.5 305.20 L489.0 305.54 L489.5 305.30" stroke="#000000"/>
</g>
<circle cx="170.8" cy="57.3" r="2.85" fill="#000"/>
<circle cx="169.55" cy="119" r="2.85" fill="#000"/>
<circle cx="169.85" cy="177.1" r="2.85" fill="#000"/>
<path d="M225.6 51.7L229.2 56.2L225.6 60.7L222.0 56.2Z" fill="#000"/>
<path d="M225.5 112.0L229.1 116.5L225.5 121.0L221.9 116.5Z" fill="#000"/>
<path d="M224.6 291.9L228.2 296.4L224.6 300.8L221.0 296.4Z" fill="#000"/>
<g stroke="#000" stroke-width="1.7" fill="none">
<path d="M89 317V324M289.5 317V324M189.2 320V324M390 320V324"/>
</g>
<rect x="38.7" y="0.85" width="451.9" height="323.75" fill="none" stroke="#000" stroke-width="1.75"/>
<g font-size="19.5" text-anchor="middle" fill="#000" stroke="#000">
<text x="88.5" y="347.3">20</text>
<text x="289.0" y="347.3">40</text>
<text x="490.2" y="346.9">60</text>
</g>
<text x="216.4" y="374.8" font-size="22" fill="#000" stroke="#000">2 <tspan font-style="italic" dx="-1.2" letter-spacing="0.3">Theta</tspan></text>
<text x="298.3" y="374.8" font-size="22" fill="#000" letter-spacing="0.8" stroke="#000">(°)</text>
<text transform="translate(17.6 151.3) rotate(-90) scale(1 1.06)" font-size="24" font-style="italic" text-anchor="middle" fill="#000" stroke="#000">Intensity (a.u.)</text>
<text x="281.3" y="20.7" font-size="19.5" fill="#0a0ad8" stroke="#0a0ad8">Li</text>
<text x="299.9" y="26.5" font-size="12.8" fill="#0a0ad8" stroke="#0a0ad8">3</text>
<text x="307.2" y="20.7" font-size="19.5" fill="#0a0ad8" letter-spacing="0.6" stroke="#0a0ad8">OBr</text>
<text x="353.4" y="20.7" font-size="19.5" fill="#000" letter-spacing="0.9" stroke="#000">and</text>
<text x="397.4" y="20.7" font-size="19.5" fill="#e60808" stroke="#e60808">Li</text>
<text x="414.8" y="27.0" font-size="12.8" fill="#e60808" stroke="#e60808">7</text>
<text x="421.4" y="20.7" font-size="19.5" fill="#e60808" stroke="#e60808">O</text>
<text x="438.0" y="27.0" font-size="12.8" fill="#e60808" stroke="#e60808">2</text>
<text x="446.4" y="20.7" font-size="19.5" fill="#e60808" letter-spacing="0.2" stroke="#e60808">Br</text>
<text x="469.5" y="26.8" font-size="12.8" fill="#e60808" stroke="#e60808">3</text>
<text x="233.2" y="47.4" font-size="14.8" fill="#e0144a" stroke="#e0144a">Li</text>
<text x="246.4" y="51.0" font-size="9.5" fill="#e0144a" stroke="#e0144a">7</text>
<text x="252.8" y="47.4" font-size="14.8" fill="#e0144a" stroke="#e0144a">O</text>
<text x="264.7" y="51.0" font-size="9.5" fill="#e0144a" stroke="#e0144a">2</text>
<text x="272.0" y="47.4" font-size="14.8" fill="#e0144a" stroke="#e0144a">Br</text>
<text x="290.0" y="51.0" font-size="9.5" fill="#e0144a" stroke="#e0144a">3</text>
<text x="300.4" y="47.4" font-size="14.8" fill="#e0144a" letter-spacing="1.5" stroke="#e0144a">wt%</text>
<g font-size="15.6" letter-spacing="0.8" word-spacing="-0.6">
<text transform="translate(343.7 47.6) scale(1 0.92)" fill="#10088c" stroke="#10088c">44 wt%</text>
<text transform="translate(342.9 107.0) scale(1 0.92)" fill="#ec00ec" stroke="#ec00ec">41 wt%</text>
<text transform="translate(342.6 167.9) scale(1 0.92)" fill="#008000" stroke="#008000">39 wt%</text>
<text transform="translate(342.9 228.3) scale(1 0.92)" fill="#f00000" stroke="#f00000">14 wt%</text>
<text transform="translate(343.8 288.7) scale(1 0.92)" fill="#000" stroke="#000">0 wt%</text>
</g>
</svg>
</body></html>
